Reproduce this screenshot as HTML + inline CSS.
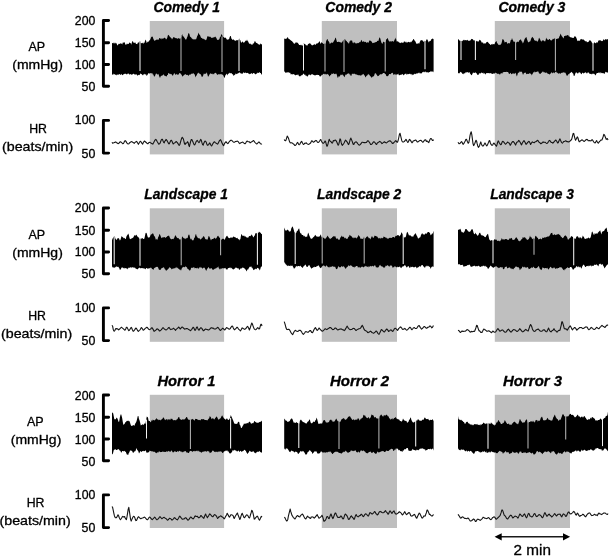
<!DOCTYPE html>
<html lang="en"><head><meta charset="utf-8"><title>Figure</title>
<style>html,body{margin:0;padding:0;background:#fff}svg{display:block}</style></head>
<body>
<svg width="609" height="557" viewBox="0 0 609 557">
<rect width="609" height="557" fill="#fff"/>
<rect x="149.8" y="21.0" width="74.3" height="133.4" fill="#bfbfbf"/>
<rect x="321.8" y="21.0" width="75.2" height="133.4" fill="#bfbfbf"/>
<rect x="494.8" y="21.0" width="75.2" height="133.4" fill="#bfbfbf"/>
<rect x="149.8" y="208.3" width="74.3" height="133.5" fill="#bfbfbf"/>
<rect x="321.8" y="208.3" width="75.2" height="133.5" fill="#bfbfbf"/>
<rect x="494.8" y="208.3" width="75.2" height="133.5" fill="#bfbfbf"/>
<rect x="149.8" y="394.8" width="74.3" height="133.2" fill="#bfbfbf"/>
<rect x="321.8" y="394.8" width="75.2" height="133.2" fill="#bfbfbf"/>
<rect x="494.8" y="394.8" width="75.2" height="133.2" fill="#bfbfbf"/>
<polygon points="112.0,43.0 112.6,43.3 113.2,42.4 113.8,43.5 114.4,43.4 115.0,42.3 115.6,43.6 116.2,43.0 116.8,44.1 117.4,45.4 118.0,45.0 118.6,43.7 119.2,43.9 119.8,43.8 120.4,43.4 121.0,43.3 121.6,43.7 122.2,44.4 122.8,42.5 123.4,42.7 124.0,42.3 124.6,42.3 125.2,44.0 125.8,45.1 126.4,44.5 127.0,43.2 127.6,44.2 128.2,43.7 128.8,43.9 129.4,42.3 130.0,42.9 130.6,43.0 131.2,44.7 131.8,42.8 132.4,41.0 133.0,41.6 133.6,42.8 134.2,43.1 134.8,42.5 135.4,42.6 136.0,44.0 136.6,43.9 137.2,44.2 137.8,42.8 138.4,42.3 139.0,42.8 139.6,41.6 140.2,41.3 140.8,43.0 141.4,43.1 142.0,43.6 142.6,42.6 143.2,44.0 143.8,42.5 144.4,43.1 145.0,41.0 145.6,39.5 146.2,41.1 146.8,43.2 147.4,42.0 148.0,41.6 148.6,41.8 149.2,40.8 149.8,40.0 150.4,39.2 151.0,37.6 151.6,36.7 152.2,36.5 152.8,36.9 153.4,39.1 154.0,39.9 154.6,41.0 155.2,40.3 155.8,40.3 156.4,39.5 157.0,39.8 157.6,39.6 158.2,40.1 158.8,39.2 159.4,38.0 160.0,38.0 160.6,39.0 161.2,38.0 161.8,39.5 162.4,38.5 163.0,38.4 163.6,38.6 164.2,37.8 164.8,37.8 165.4,38.3 166.0,39.4 166.6,39.0 167.2,38.1 167.8,35.4 168.4,34.7 169.0,35.5 169.6,36.5 170.2,37.1 170.8,37.7 171.4,38.1 172.0,39.6 172.6,38.5 173.2,37.5 173.8,36.9 174.4,37.6 175.0,37.8 175.6,38.2 176.2,38.1 176.8,38.4 177.4,38.7 178.0,38.6 178.6,38.0 179.2,38.7 179.8,38.6 180.4,38.8 181.0,37.7 181.6,35.8 182.2,34.0 182.8,36.2 183.4,36.2 184.0,37.2 184.6,37.9 185.2,39.0 185.8,39.7 186.4,39.3 187.0,37.4 187.6,36.2 188.2,33.8 188.8,33.1 189.4,34.0 190.0,36.6 190.6,37.1 191.2,37.6 191.8,38.5 192.4,38.8 193.0,39.4 193.6,39.3 194.2,39.5 194.8,39.3 195.4,39.2 196.0,39.4 196.6,38.1 197.2,36.1 197.8,35.2 198.4,32.6 199.0,34.0 199.6,34.8 200.2,35.4 200.8,37.2 201.4,37.9 202.0,38.1 202.6,38.7 203.2,39.3 203.8,38.6 204.4,39.5 205.0,39.6 205.6,40.2 206.2,40.0 206.8,38.4 207.4,36.3 208.0,36.2 208.6,36.4 209.2,37.1 209.8,36.6 210.4,36.7 211.0,37.4 211.6,38.1 212.2,37.6 212.8,38.0 213.4,37.2 214.0,37.4 214.6,37.0 215.2,36.5 215.8,37.2 216.4,37.9 217.0,39.6 217.6,39.9 218.2,39.8 218.8,39.8 219.4,39.0 220.0,37.1 220.6,36.8 221.2,34.6 221.8,34.3 222.4,35.7 223.0,37.5 223.6,36.8 224.2,37.5 224.8,38.1 225.4,37.6 226.0,38.0 226.6,39.3 227.2,39.8 227.8,39.6 228.4,39.2 229.0,39.4 229.6,37.2 230.2,36.0 230.8,36.1 231.4,38.5 232.0,39.2 232.6,39.9 233.2,39.3 233.8,39.7 234.4,40.2 235.0,40.7 235.6,40.7 236.2,40.6 236.8,39.9 237.4,40.3 238.0,40.3 238.6,39.8 239.2,38.6 239.8,40.0 240.4,40.3 241.0,42.5 241.6,42.7 242.2,41.2 242.8,42.0 243.4,42.6 244.0,42.8 244.6,42.1 245.2,41.2 245.8,40.5 246.4,41.1 247.0,39.4 247.6,41.1 248.2,41.4 248.8,43.0 249.4,44.2 250.0,42.9 250.6,44.3 251.2,44.1 251.8,45.1 252.4,44.7 253.0,43.3 253.6,43.8 254.2,42.5 254.8,41.1 255.4,41.5 256.0,42.7 256.6,43.0 257.2,43.3 257.8,43.7 258.4,44.3 259.0,44.4 259.6,45.0 260.2,43.2 260.8,44.2 261.4,44.5 262.0,43.8 262.0,74.4 261.4,74.4 260.8,73.1 260.2,72.9 259.6,72.1 259.0,72.7 258.4,73.1 257.8,72.5 257.2,73.2 256.6,73.6 256.0,74.2 255.4,74.3 254.8,73.9 254.2,72.9 253.6,73.0 253.0,73.2 252.4,74.3 251.8,73.0 251.2,73.6 250.6,74.0 250.0,73.5 249.4,74.2 248.8,73.9 248.2,73.0 247.6,73.1 247.0,72.8 246.4,73.3 245.8,72.7 245.2,72.5 244.6,73.3 244.0,72.4 243.4,72.2 242.8,73.8 242.2,73.6 241.6,73.6 241.0,73.8 240.4,72.9 239.8,72.6 239.2,72.4 238.6,73.0 238.0,73.6 237.4,73.6 236.8,74.3 236.2,73.8 235.6,73.5 235.0,75.1 234.4,74.7 233.8,76.2 233.2,74.7 232.6,74.2 232.0,74.1 231.4,72.9 230.8,72.9 230.2,73.6 229.6,72.6 229.0,73.8 228.4,73.4 227.8,74.3 227.2,75.4 226.6,73.5 226.0,74.4 225.4,75.3 224.8,77.3 224.2,77.9 223.6,75.9 223.0,75.1 222.4,74.7 221.8,73.8 221.2,74.8 220.6,73.7 220.0,74.7 219.4,74.0 218.8,74.6 218.2,74.0 217.6,74.9 217.0,74.5 216.4,73.5 215.8,73.0 215.2,72.8 214.6,73.0 214.0,74.4 213.4,74.1 212.8,73.5 212.2,74.5 211.6,73.5 211.0,74.3 210.4,73.0 209.8,74.1 209.2,74.9 208.6,76.3 208.0,76.8 207.4,74.4 206.8,72.2 206.2,73.6 205.6,73.9 205.0,73.3 204.4,74.2 203.8,73.4 203.2,75.5 202.6,76.4 202.0,77.3 201.4,76.1 200.8,74.0 200.2,74.6 199.6,73.4 199.0,73.4 198.4,72.6 197.8,73.2 197.2,74.1 196.6,75.6 196.0,76.0 195.4,77.6 194.8,74.8 194.2,74.0 193.6,73.5 193.0,73.1 192.4,73.9 191.8,73.6 191.2,73.9 190.6,74.7 190.0,74.3 189.4,74.8 188.8,75.4 188.2,75.8 187.6,74.8 187.0,75.0 186.4,75.0 185.8,73.9 185.2,74.4 184.6,74.4 184.0,75.3 183.4,75.6 182.8,76.4 182.2,76.2 181.6,74.8 181.0,74.2 180.4,73.3 179.8,73.3 179.2,73.1 178.6,74.9 178.0,74.0 177.4,75.0 176.8,74.6 176.2,73.7 175.6,75.0 175.0,74.3 174.4,73.1 173.8,73.7 173.2,75.2 172.6,75.8 172.0,75.0 171.4,74.1 170.8,73.7 170.2,74.3 169.6,74.0 169.0,72.9 168.4,73.1 167.8,75.0 167.2,75.1 166.6,76.7 166.0,76.1 165.4,76.3 164.8,75.3 164.2,75.9 163.6,74.2 163.0,74.8 162.4,75.6 161.8,76.0 161.2,75.5 160.6,76.5 160.0,78.1 159.4,76.7 158.8,75.0 158.2,73.7 157.6,74.8 157.0,74.0 156.4,73.6 155.8,73.7 155.2,75.4 154.6,76.4 154.0,76.6 153.4,74.5 152.8,74.5 152.2,73.0 151.6,73.4 151.0,73.1 150.4,73.2 149.8,73.3 149.2,73.7 148.6,72.7 148.0,74.3 147.4,74.7 146.8,76.3 146.2,74.4 145.6,74.3 145.0,74.8 144.4,73.7 143.8,74.1 143.2,75.2 142.6,75.2 142.0,74.6 141.4,74.0 140.8,73.7 140.2,73.4 139.6,75.2 139.0,74.8 138.4,75.0 137.8,75.4 137.2,75.6 136.6,74.5 136.0,74.1 135.4,74.7 134.8,74.5 134.2,74.2 133.6,73.8 133.0,73.7 132.4,74.5 131.8,75.1 131.2,74.2 130.6,74.2 130.0,73.9 129.4,74.7 128.8,74.0 128.2,73.3 127.6,73.7 127.0,74.4 126.4,74.3 125.8,73.8 125.2,73.8 124.6,73.7 124.0,74.3 123.4,74.3 122.8,75.2 122.2,74.9 121.6,73.8 121.0,75.1 120.4,74.8 119.8,74.0 119.2,74.3 118.6,74.9 118.0,74.1 117.4,74.9 116.8,74.4 116.2,75.4 115.6,74.7 115.0,74.5 114.4,74.3 113.8,73.4 113.2,74.7 112.6,74.6 112.0,74.7" fill="#000"/>
<line x1="140.0" y1="41.5" x2="140.0" y2="70.9" stroke="#fff" stroke-width="1.05" stroke-opacity="0.95"/>
<line x1="181.0" y1="35.8" x2="181.0" y2="71.0" stroke="#bfbfbf" stroke-width="1.05" stroke-opacity="0.95"/>
<line x1="222.0" y1="36.4" x2="222.0" y2="72.0" stroke="#bfbfbf" stroke-width="1.05" stroke-opacity="0.95"/>
<line x1="239.0" y1="39.3" x2="239.0" y2="71.1" stroke="#fff" stroke-width="1.05" stroke-opacity="0.95"/>
<path d="M112.0,142.3 L112.6,143.2 L113.2,143.0 L113.8,142.8 L114.4,142.5 L115.0,142.2 L115.6,141.9 L116.2,142.3 L116.8,142.8 L117.4,143.2 L118.0,143.7 L118.6,143.5 L119.2,142.9 L119.8,142.1 L120.4,141.8 L121.0,142.1 L121.6,142.7 L122.2,143.2 L122.8,143.8 L123.4,143.6 L124.0,142.4 L124.6,141.1 L125.2,140.6 L125.8,141.1 L126.4,142.1 L127.0,143.1 L127.6,143.7 L128.2,144.0 L128.8,143.8 L129.4,143.0 L130.0,142.5 L130.6,142.1 L131.2,141.8 L131.8,141.6 L132.4,142.1 L133.0,142.4 L133.6,142.8 L134.2,143.3 L134.8,142.7 L135.4,142.1 L136.0,141.7 L136.6,141.4 L137.2,142.3 L137.8,143.2 L138.4,144.3 L139.0,143.3 L139.6,142.3 L140.2,141.2 L140.8,141.5 L141.4,142.5 L142.0,143.5 L142.6,144.2 L143.2,142.8 L143.8,141.8 L144.4,141.0 L145.0,141.5 L145.6,142.0 L146.2,142.5 L146.8,143.1 L147.4,143.7 L148.0,143.6 L148.6,142.8 L149.2,142.6 L149.8,142.2 L150.4,142.7 L151.0,143.1 L151.6,143.4 L152.2,143.7 L152.8,144.2 L153.4,143.1 L154.0,141.9 L154.6,140.8 L155.2,139.9 L155.8,139.4 L156.4,140.1 L157.0,141.2 L157.6,142.2 L158.2,143.2 L158.8,144.2 L159.4,143.8 L160.0,143.4 L160.6,141.7 L161.2,140.1 L161.8,139.2 L162.4,139.3 L163.0,140.9 L163.6,142.4 L164.2,142.9 L164.8,141.2 L165.4,140.7 L166.0,139.4 L166.6,140.0 L167.2,140.9 L167.8,142.1 L168.4,143.2 L169.0,144.0 L169.6,143.1 L170.2,141.8 L170.8,140.5 L171.4,140.2 L172.0,141.3 L172.6,142.7 L173.2,144.0 L173.8,143.4 L174.4,142.9 L175.0,142.7 L175.6,142.1 L176.2,141.5 L176.8,142.1 L177.4,142.7 L178.0,143.6 L178.6,144.8 L179.2,145.3 L179.8,144.7 L180.4,142.5 L181.0,140.3 L181.6,138.5 L182.2,137.3 L182.8,138.1 L183.4,139.0 L184.0,141.6 L184.6,144.0 L185.2,144.4 L185.8,143.0 L186.4,143.1 L187.0,142.6 L187.6,141.7 L188.2,142.8 L188.8,145.2 L189.4,146.6 L190.0,144.0 L190.6,141.7 L191.2,139.6 L191.8,139.5 L192.4,140.8 L193.0,142.1 L193.6,143.5 L194.2,144.8 L194.8,144.9 L195.4,143.5 L196.0,141.9 L196.6,141.0 L197.2,140.3 L197.8,141.2 L198.4,142.0 L199.0,142.7 L199.6,141.8 L200.2,140.3 L200.8,139.4 L201.4,140.6 L202.0,142.9 L202.6,144.7 L203.2,145.2 L203.8,143.2 L204.4,141.9 L205.0,141.1 L205.6,141.2 L206.2,142.2 L206.8,144.0 L207.4,145.2 L208.0,145.2 L208.6,144.6 L209.2,143.6 L209.8,142.9 L210.4,144.0 L211.0,145.3 L211.6,146.0 L212.2,145.0 L212.8,143.8 L213.4,142.9 L214.0,142.0 L214.6,141.7 L215.2,142.6 L215.8,143.0 L216.4,143.3 L217.0,143.7 L217.6,144.2 L218.2,143.3 L218.8,142.0 L219.4,140.7 L220.0,140.1 L220.6,139.7 L221.2,141.1 L221.8,142.4 L222.4,143.7 L223.0,145.0 L223.6,145.7 L224.2,144.3 L224.8,143.1 L225.4,142.3 L226.0,141.7 L226.6,142.5 L227.2,143.1 L227.8,143.6 L228.4,143.0 L229.0,142.0 L229.6,141.3 L230.2,140.7 L230.8,140.3 L231.4,140.2 L232.0,140.7 L232.6,141.3 L233.2,141.8 L233.8,142.3 L234.4,142.3 L235.0,141.8 L235.6,141.5 L236.2,141.4 L236.8,141.2 L237.4,141.1 L238.0,141.5 L238.6,142.2 L239.2,143.2 L239.8,143.7 L240.4,143.0 L241.0,142.7 L241.6,142.5 L242.2,142.3 L242.8,142.1 L243.4,142.7 L244.0,143.2 L244.6,143.6 L245.2,143.6 L245.8,142.8 L246.4,141.8 L247.0,141.0 L247.6,141.3 L248.2,141.8 L248.8,141.7 L249.4,141.8 L250.0,142.6 L250.6,142.7 L251.2,142.0 L251.8,141.7 L252.4,141.5 L253.0,140.8 L253.6,140.5 L254.2,141.3 L254.8,142.3 L255.4,142.8 L256.0,143.3 L256.6,144.0 L257.2,143.7 L257.8,143.0 L258.4,142.3 L259.0,142.0 L259.6,142.6 L260.2,143.3 L260.8,143.9 L261.4,144.1 L262.0,143.9" fill="none" stroke="#151515" stroke-width="1.1" stroke-linejoin="round"/>
<polygon points="284.2,38.5 284.8,38.8 285.4,38.8 286.0,38.9 286.6,38.4 287.2,37.8 287.8,37.0 288.4,38.6 289.0,39.3 289.6,39.0 290.2,40.5 290.8,39.7 291.4,40.9 292.0,40.9 292.6,42.0 293.2,42.6 293.8,43.4 294.4,43.8 295.0,43.4 295.6,42.4 296.2,42.0 296.8,42.9 297.4,42.5 298.0,43.3 298.6,43.9 299.2,44.9 299.8,44.9 300.4,45.3 301.0,44.6 301.6,45.2 302.2,46.1 302.8,44.9 303.4,43.5 304.0,43.6 304.6,43.9 305.2,44.1 305.8,45.2 306.4,44.9 307.0,45.9 307.6,44.9 308.2,43.9 308.8,43.7 309.4,43.5 310.0,42.9 310.6,43.9 311.2,44.6 311.8,45.2 312.4,45.4 313.0,44.7 313.6,45.0 314.2,43.7 314.8,44.7 315.4,45.0 316.0,44.1 316.6,43.6 317.2,43.4 317.8,43.2 318.4,42.8 319.0,42.0 319.6,41.0 320.2,43.1 320.8,43.9 321.4,42.1 322.0,42.7 322.6,43.0 323.2,43.9 323.8,43.7 324.4,43.4 325.0,43.8 325.6,43.5 326.2,41.1 326.8,39.8 327.4,38.7 328.0,40.4 328.6,41.2 329.2,42.1 329.8,43.9 330.4,43.4 331.0,42.8 331.6,42.4 332.2,42.7 332.8,42.7 333.4,42.0 334.0,40.8 334.6,40.0 335.2,38.3 335.8,37.4 336.4,40.0 337.0,42.0 337.6,42.0 338.2,42.1 338.8,41.4 339.4,42.3 340.0,41.8 340.6,42.5 341.2,42.9 341.8,42.3 342.4,41.7 343.0,40.6 343.6,40.3 344.2,40.2 344.8,38.9 345.4,39.8 346.0,41.0 346.6,40.7 347.2,42.2 347.8,42.2 348.4,43.3 349.0,43.8 349.6,41.3 350.2,41.2 350.8,39.9 351.4,40.7 352.0,40.2 352.6,42.5 353.2,43.4 353.8,42.2 354.4,42.6 355.0,42.4 355.6,43.5 356.2,43.5 356.8,43.2 357.4,43.2 358.0,42.8 358.6,43.3 359.2,42.5 359.8,42.1 360.4,42.3 361.0,40.4 361.6,39.7 362.2,42.1 362.8,41.5 363.4,41.5 364.0,41.3 364.6,42.3 365.2,41.7 365.8,42.1 366.4,42.6 367.0,43.3 367.6,41.8 368.2,43.1 368.8,42.0 369.4,40.5 370.0,40.6 370.6,40.7 371.2,41.3 371.8,41.8 372.4,42.9 373.0,43.3 373.6,42.8 374.2,42.8 374.8,42.5 375.4,42.3 376.0,42.1 376.6,42.1 377.2,40.9 377.8,40.8 378.4,41.0 379.0,38.7 379.6,37.3 380.2,38.2 380.8,40.6 381.4,42.4 382.0,43.4 382.6,43.7 383.2,41.6 383.8,42.0 384.4,42.2 385.0,42.2 385.6,41.6 386.2,39.3 386.8,39.3 387.4,37.8 388.0,39.1 388.6,40.4 389.2,41.6 389.8,41.6 390.4,41.5 391.0,40.9 391.6,41.8 392.2,40.9 392.8,41.3 393.4,41.8 394.0,41.2 394.6,39.6 395.2,39.2 395.8,37.4 396.4,40.5 397.0,42.0 397.6,40.9 398.2,41.6 398.8,42.3 399.4,42.7 400.0,42.5 400.6,43.2 401.2,42.4 401.8,42.6 402.4,42.4 403.0,43.3 403.6,42.2 404.2,41.0 404.8,42.1 405.4,42.4 406.0,41.3 406.6,42.7 407.2,42.2 407.8,42.4 408.4,41.8 409.0,41.9 409.6,42.4 410.2,41.6 410.8,42.4 411.4,42.0 412.0,40.9 412.6,40.4 413.2,39.3 413.8,39.0 414.4,40.3 415.0,40.9 415.6,41.7 416.2,43.5 416.8,43.7 417.4,43.9 418.0,42.7 418.6,43.6 419.2,43.8 419.8,41.9 420.4,40.7 421.0,40.0 421.6,40.3 422.2,40.4 422.8,40.5 423.4,41.8 424.0,41.7 424.6,40.8 425.2,41.0 425.8,41.2 426.4,39.7 427.0,38.9 427.6,40.1 428.2,41.3 428.8,42.6 429.4,41.3 430.0,41.1 430.6,41.1 431.2,39.3 431.8,39.2 432.4,38.5 433.0,38.8 433.6,39.3 433.6,72.6 433.0,71.3 432.4,71.8 431.8,71.5 431.2,71.6 430.6,71.2 430.0,71.9 429.4,71.9 428.8,72.4 428.2,72.4 427.6,72.4 427.0,71.7 426.4,72.4 425.8,72.2 425.2,71.3 424.6,71.9 424.0,72.4 423.4,71.6 422.8,72.6 422.2,72.0 421.6,73.8 421.0,73.1 420.4,73.4 419.8,73.4 419.2,72.6 418.6,72.7 418.0,73.5 417.4,73.3 416.8,73.7 416.2,73.2 415.6,74.1 415.0,74.2 414.4,73.4 413.8,74.7 413.2,74.6 412.6,74.6 412.0,75.4 411.4,73.8 410.8,74.4 410.2,73.7 409.6,73.7 409.0,74.1 408.4,74.3 407.8,73.8 407.2,74.5 406.6,74.7 406.0,73.3 405.4,74.1 404.8,74.2 404.2,74.5 403.6,75.4 403.0,74.6 402.4,73.9 401.8,74.5 401.2,74.7 400.6,74.7 400.0,74.9 399.4,75.2 398.8,75.2 398.2,73.6 397.6,74.2 397.0,74.8 396.4,74.3 395.8,75.3 395.2,73.7 394.6,74.0 394.0,75.3 393.4,74.6 392.8,73.1 392.2,72.8 391.6,73.0 391.0,73.7 390.4,74.3 389.8,73.9 389.2,73.9 388.6,75.3 388.0,76.0 387.4,76.3 386.8,76.3 386.2,75.8 385.6,74.1 385.0,74.1 384.4,72.9 383.8,72.9 383.2,72.9 382.6,73.7 382.0,73.8 381.4,74.5 380.8,74.3 380.2,74.3 379.6,74.8 379.0,75.4 378.4,76.0 377.8,76.3 377.2,75.6 376.6,74.7 376.0,73.5 375.4,73.3 374.8,73.6 374.2,75.4 373.6,76.5 373.0,76.2 372.4,76.9 371.8,77.6 371.2,77.4 370.6,76.2 370.0,75.9 369.4,74.7 368.8,74.8 368.2,73.7 367.6,74.9 367.0,75.7 366.4,75.8 365.8,77.4 365.2,76.7 364.6,75.5 364.0,74.8 363.4,73.7 362.8,75.0 362.2,74.1 361.6,75.2 361.0,75.5 360.4,75.6 359.8,75.5 359.2,75.1 358.6,75.2 358.0,75.3 357.4,74.7 356.8,74.9 356.2,73.9 355.6,74.6 355.0,74.1 354.4,73.4 353.8,74.2 353.2,73.5 352.6,74.0 352.0,73.5 351.4,75.7 350.8,76.1 350.2,74.6 349.6,74.5 349.0,73.2 348.4,73.4 347.8,73.7 347.2,73.7 346.6,74.8 346.0,74.4 345.4,74.8 344.8,76.5 344.2,77.2 343.6,75.4 343.0,75.6 342.4,74.2 341.8,75.3 341.2,74.4 340.6,74.7 340.0,75.9 339.4,76.7 338.8,76.0 338.2,77.4 337.6,77.7 337.0,75.5 336.4,73.6 335.8,74.2 335.2,73.6 334.6,74.1 334.0,74.2 333.4,73.0 332.8,73.7 332.2,73.9 331.6,73.5 331.0,75.1 330.4,74.9 329.8,76.6 329.2,75.9 328.6,74.8 328.0,74.4 327.4,73.8 326.8,74.8 326.2,74.1 325.6,74.5 325.0,73.6 324.4,74.4 323.8,73.7 323.2,74.0 322.6,75.0 322.0,74.6 321.4,75.4 320.8,76.3 320.2,76.4 319.6,76.3 319.0,74.9 318.4,75.0 317.8,74.8 317.2,74.9 316.6,75.0 316.0,74.7 315.4,75.5 314.8,75.3 314.2,75.2 313.6,75.0 313.0,74.5 312.4,74.2 311.8,74.2 311.2,74.6 310.6,75.4 310.0,74.4 309.4,74.8 308.8,74.5 308.2,75.4 307.6,76.4 307.0,76.4 306.4,75.5 305.8,75.9 305.2,74.6 304.6,74.9 304.0,74.1 303.4,73.6 302.8,74.6 302.2,75.3 301.6,75.2 301.0,75.4 300.4,76.3 299.8,76.5 299.2,75.9 298.6,75.6 298.0,74.0 297.4,75.2 296.8,74.7 296.2,75.0 295.6,75.4 295.0,74.8 294.4,74.7 293.8,74.1 293.2,74.3 292.6,74.6 292.0,74.0 291.4,74.2 290.8,74.4 290.2,72.7 289.6,72.9 289.0,72.3 288.4,72.5 287.8,72.0 287.2,72.7 286.6,72.3 286.0,73.1 285.4,72.4 284.8,72.0 284.2,71.1" fill="#000"/>
<line x1="303.5" y1="43.5" x2="303.5" y2="70.5" stroke="#fff" stroke-width="1.05" stroke-opacity="0.95"/>
<line x1="325.0" y1="40.2" x2="325.0" y2="71.5" stroke="#bfbfbf" stroke-width="1.05" stroke-opacity="0.95"/>
<line x1="344.0" y1="39.7" x2="344.0" y2="72.0" stroke="#bfbfbf" stroke-width="1.05" stroke-opacity="0.95"/>
<line x1="385.2" y1="39.3" x2="385.2" y2="71.5" stroke="#bfbfbf" stroke-width="1.05" stroke-opacity="0.95"/>
<line x1="425.0" y1="40.1" x2="425.0" y2="69.2" stroke="#fff" stroke-width="1.05" stroke-opacity="0.95"/>
<path d="M284.2,139.5 L284.8,140.6 L285.4,140.8 L286.0,140.1 L286.6,138.1 L287.2,136.1 L287.8,136.9 L288.4,138.0 L289.0,139.8 L289.6,141.8 L290.2,142.8 L290.8,142.9 L291.4,142.7 L292.0,142.8 L292.6,143.4 L293.2,143.8 L293.8,144.2 L294.4,145.0 L295.0,145.5 L295.6,145.2 L296.2,144.6 L296.8,143.5 L297.4,142.4 L298.0,142.9 L298.6,144.4 L299.2,144.8 L299.8,144.3 L300.4,143.1 L301.0,141.9 L301.6,141.4 L302.2,142.4 L302.8,143.5 L303.4,144.5 L304.0,144.1 L304.6,143.5 L305.2,143.0 L305.8,143.2 L306.4,142.9 L307.0,143.6 L307.6,144.0 L308.2,144.3 L308.8,144.5 L309.4,143.8 L310.0,143.6 L310.6,142.9 L311.2,141.7 L311.8,140.7 L312.4,141.2 L313.0,141.9 L313.6,142.3 L314.2,141.7 L314.8,141.3 L315.4,140.7 L316.0,140.4 L316.6,140.7 L317.2,141.8 L317.8,142.5 L318.4,142.4 L319.0,141.8 L319.6,141.0 L320.2,140.0 L320.8,139.5 L321.4,141.0 L322.0,142.1 L322.6,143.0 L323.2,143.4 L323.8,142.9 L324.4,142.4 L325.0,141.0 L325.6,141.6 L326.2,143.9 L326.8,146.2 L327.4,145.9 L328.0,143.9 L328.6,141.4 L329.2,139.3 L329.8,140.6 L330.4,141.5 L331.0,141.7 L331.6,142.5 L332.2,143.1 L332.8,142.2 L333.4,140.5 L334.0,140.7 L334.6,140.6 L335.2,140.0 L335.8,140.4 L336.4,141.3 L337.0,142.5 L337.6,144.0 L338.2,145.2 L338.8,144.2 L339.4,141.7 L340.0,138.9 L340.6,139.7 L341.2,142.7 L341.8,144.6 L342.4,145.3 L343.0,144.4 L343.6,143.8 L344.2,142.8 L344.8,141.6 L345.4,140.1 L346.0,140.5 L346.6,141.3 L347.2,142.1 L347.8,143.3 L348.4,144.6 L349.0,143.9 L349.6,141.8 L350.2,139.5 L350.8,138.1 L351.4,139.4 L352.0,140.9 L352.6,142.5 L353.2,144.2 L353.8,144.5 L354.4,143.1 L355.0,142.4 L355.6,142.0 L356.2,141.8 L356.8,142.4 L357.4,143.2 L358.0,144.0 L358.6,144.7 L359.2,145.1 L359.8,145.0 L360.4,144.3 L361.0,143.6 L361.6,142.9 L362.2,142.2 L362.8,142.3 L363.4,142.5 L364.0,142.6 L364.6,142.6 L365.2,142.7 L365.8,142.5 L366.4,142.4 L367.0,141.6 L367.6,140.7 L368.2,140.8 L368.8,141.5 L369.4,142.3 L370.0,143.2 L370.6,144.4 L371.2,144.5 L371.8,144.1 L372.4,143.3 L373.0,142.5 L373.6,141.9 L374.2,141.8 L374.8,142.5 L375.4,143.2 L376.0,144.1 L376.6,144.5 L377.2,143.2 L377.8,142.7 L378.4,142.3 L379.0,141.9 L379.6,141.4 L380.2,141.7 L380.8,142.2 L381.4,142.9 L382.0,143.6 L382.6,143.2 L383.2,142.7 L383.8,142.2 L384.4,141.8 L385.0,142.2 L385.6,142.6 L386.2,142.9 L386.8,142.7 L387.4,142.2 L388.0,141.6 L388.6,141.3 L389.2,141.0 L389.8,140.7 L390.4,141.0 L391.0,141.6 L391.6,142.1 L392.2,143.2 L392.8,143.5 L393.4,143.0 L394.0,142.4 L394.6,141.9 L395.2,141.2 L395.8,140.6 L396.4,141.3 L397.0,142.1 L397.6,142.2 L398.2,140.1 L398.8,137.5 L399.4,134.4 L400.0,133.2 L400.6,135.6 L401.2,138.1 L401.8,140.7 L402.4,141.6 L403.0,142.1 L403.6,141.9 L404.2,141.5 L404.8,141.0 L405.4,140.2 L406.0,139.4 L406.6,140.4 L407.2,141.5 L407.8,142.5 L408.4,141.8 L409.0,140.2 L409.6,139.4 L410.2,140.0 L410.8,140.9 L411.4,141.9 L412.0,142.8 L412.6,142.2 L413.2,140.9 L413.8,140.7 L414.4,140.6 L415.0,140.2 L415.6,140.0 L416.2,140.5 L416.8,141.4 L417.4,142.0 L418.0,141.9 L418.6,141.4 L419.2,140.9 L419.8,140.6 L420.4,140.4 L421.0,140.4 L421.6,141.0 L422.2,141.7 L422.8,142.3 L423.4,141.9 L424.0,140.8 L424.6,140.2 L425.2,139.8 L425.8,140.1 L426.4,141.4 L427.0,141.1 L427.6,141.3 L428.2,142.2 L428.8,142.6 L429.4,140.9 L430.0,139.6 L430.6,138.5 L431.2,138.5 L431.8,139.3 L432.4,140.5 L433.0,140.5 L433.6,139.7" fill="none" stroke="#151515" stroke-width="1.1" stroke-linejoin="round"/>
<polygon points="458.0,38.8 458.6,39.4 459.2,40.3 459.8,40.7 460.4,40.7 461.0,41.1 461.6,41.0 462.2,41.3 462.8,40.4 463.4,40.2 464.0,39.6 464.6,40.6 465.2,40.1 465.8,40.2 466.4,40.5 467.0,39.8 467.6,39.9 468.2,40.9 468.8,40.6 469.4,40.9 470.0,40.3 470.6,40.4 471.2,38.7 471.8,39.2 472.4,39.1 473.0,39.4 473.6,40.5 474.2,40.2 474.8,40.4 475.4,41.4 476.0,41.7 476.6,40.8 477.2,41.3 477.8,41.6 478.4,41.7 479.0,40.7 479.6,39.8 480.2,40.1 480.8,40.8 481.4,41.7 482.0,42.9 482.6,42.2 483.2,42.8 483.8,44.1 484.4,43.3 485.0,43.5 485.6,43.4 486.2,42.6 486.8,42.1 487.4,41.8 488.0,42.2 488.6,42.9 489.2,43.8 489.8,43.9 490.4,45.0 491.0,44.8 491.6,43.9 492.2,44.8 492.8,43.8 493.4,44.0 494.0,44.6 494.6,44.0 495.2,42.2 495.8,41.7 496.4,40.8 497.0,42.8 497.6,43.4 498.2,44.8 498.8,44.7 499.4,44.8 500.0,45.3 500.6,44.4 501.2,43.9 501.8,42.2 502.4,39.3 503.0,39.3 503.6,39.8 504.2,41.0 504.8,42.7 505.4,42.0 506.0,41.9 506.6,41.7 507.2,43.4 507.8,43.8 508.4,43.1 509.0,43.3 509.6,43.4 510.2,42.3 510.8,40.1 511.4,40.0 512.0,38.1 512.6,39.8 513.2,40.7 513.8,41.9 514.4,41.9 515.0,41.0 515.6,42.3 516.2,42.2 516.8,42.5 517.4,41.7 518.0,41.5 518.6,42.3 519.2,40.4 519.8,40.1 520.4,39.4 521.0,39.4 521.6,41.3 522.2,41.5 522.8,43.5 523.4,42.6 524.0,41.0 524.6,39.1 525.2,38.2 525.8,37.5 526.4,36.9 527.0,39.3 527.6,40.8 528.2,42.4 528.8,42.1 529.4,41.4 530.0,41.8 530.6,40.4 531.2,38.4 531.8,37.4 532.4,36.8 533.0,37.8 533.6,38.3 534.2,39.9 534.8,40.4 535.4,40.9 536.0,40.2 536.6,41.1 537.2,41.7 537.8,41.3 538.4,39.9 539.0,37.5 539.6,38.6 540.2,39.6 540.8,41.0 541.4,41.7 542.0,40.4 542.6,40.6 543.2,40.2 543.8,40.8 544.4,41.0 545.0,41.8 545.6,40.3 546.2,37.5 546.8,39.1 547.4,39.4 548.0,39.8 548.6,40.0 549.2,38.9 549.8,39.0 550.4,40.4 551.0,39.7 551.6,40.7 552.2,40.0 552.8,38.7 553.4,39.2 554.0,38.6 554.6,38.5 555.2,38.2 555.8,38.5 556.4,39.1 557.0,39.1 557.6,38.5 558.2,38.5 558.8,38.3 559.4,36.5 560.0,35.4 560.6,33.5 561.2,34.9 561.8,36.2 562.4,36.7 563.0,37.7 563.6,38.5 564.2,35.9 564.8,35.9 565.4,35.5 566.0,35.9 566.6,35.6 567.2,35.1 567.8,35.3 568.4,35.2 569.0,36.7 569.6,36.6 570.2,37.1 570.8,37.4 571.4,37.5 572.0,37.6 572.6,38.0 573.2,37.8 573.8,38.1 574.4,36.5 575.0,36.0 575.6,36.7 576.2,37.4 576.8,39.0 577.4,40.8 578.0,41.3 578.6,40.6 579.2,40.3 579.8,41.3 580.4,39.6 581.0,38.8 581.6,39.3 582.2,39.5 582.8,39.5 583.4,39.3 584.0,40.3 584.6,40.4 585.2,41.1 585.8,41.6 586.4,41.0 587.0,42.4 587.6,42.0 588.2,42.0 588.8,41.5 589.4,40.4 590.0,40.1 590.6,40.7 591.2,41.2 591.8,42.6 592.4,43.0 593.0,43.5 593.6,43.4 594.2,42.1 594.8,43.0 595.4,43.0 596.0,43.5 596.6,41.9 597.2,42.7 597.8,42.2 598.4,40.5 599.0,40.6 599.6,40.2 600.2,40.5 600.8,40.3 601.4,41.3 602.0,40.8 602.6,41.2 603.2,40.1 603.8,39.0 604.4,40.5 605.0,39.4 605.6,39.1 606.2,40.0 606.8,38.9 607.4,39.6 608.0,38.8 608.0,72.6 607.4,72.6 606.8,72.5 606.2,71.9 605.6,71.7 605.0,72.7 604.4,74.3 603.8,72.9 603.2,73.5 602.6,73.0 602.0,73.2 601.4,72.9 600.8,71.9 600.2,73.4 599.6,73.0 599.0,71.9 598.4,72.9 597.8,73.1 597.2,73.1 596.6,73.2 596.0,74.5 595.4,75.4 594.8,74.4 594.2,73.7 593.6,73.9 593.0,73.3 592.4,74.1 591.8,74.5 591.2,73.7 590.6,74.1 590.0,73.7 589.4,73.8 588.8,72.5 588.2,72.6 587.6,72.4 587.0,73.7 586.4,73.0 585.8,72.2 585.2,72.5 584.6,72.7 584.0,73.3 583.4,73.6 582.8,72.8 582.2,72.8 581.6,74.2 581.0,73.9 580.4,72.8 579.8,72.5 579.2,72.2 578.6,72.4 578.0,73.8 577.4,73.2 576.8,72.6 576.2,72.6 575.6,72.7 575.0,74.6 574.4,76.0 573.8,75.9 573.2,73.6 572.6,73.3 572.0,72.3 571.4,71.8 570.8,73.0 570.2,72.4 569.6,73.4 569.0,74.0 568.4,74.2 567.8,75.1 567.2,76.0 566.6,75.6 566.0,73.9 565.4,72.8 564.8,72.6 564.2,72.8 563.6,72.1 563.0,72.9 562.4,72.6 561.8,72.7 561.2,72.9 560.6,73.8 560.0,73.4 559.4,73.3 558.8,73.3 558.2,73.9 557.6,72.6 557.0,73.3 556.4,71.7 555.8,71.8 555.2,72.1 554.6,73.5 554.0,72.2 553.4,72.8 552.8,72.8 552.2,73.4 551.6,72.1 551.0,72.9 550.4,73.7 549.8,74.3 549.2,74.5 548.6,73.7 548.0,74.0 547.4,73.3 546.8,73.0 546.2,72.2 545.6,72.7 545.0,73.0 544.4,72.1 543.8,72.6 543.2,71.4 542.6,71.5 542.0,72.4 541.4,72.8 540.8,73.6 540.2,74.0 539.6,73.4 539.0,73.4 538.4,71.6 537.8,71.6 537.2,71.6 536.6,71.9 536.0,71.7 535.4,72.5 534.8,71.3 534.2,72.6 533.6,72.1 533.0,73.2 532.4,74.0 531.8,75.4 531.2,74.1 530.6,74.1 530.0,72.7 529.4,73.6 528.8,73.8 528.2,73.9 527.6,73.8 527.0,73.9 526.4,74.2 525.8,72.8 525.2,72.6 524.6,72.9 524.0,72.7 523.4,74.4 522.8,74.5 522.2,72.5 521.6,71.7 521.0,71.6 520.4,72.1 519.8,71.2 519.2,72.4 518.6,72.8 518.0,72.7 517.4,75.0 516.8,76.5 516.2,74.5 515.6,73.1 515.0,72.8 514.4,73.9 513.8,73.9 513.2,73.0 512.6,73.5 512.0,74.1 511.4,74.2 510.8,73.2 510.2,72.8 509.6,74.0 509.0,73.9 508.4,72.5 507.8,72.1 507.2,71.9 506.6,71.7 506.0,71.9 505.4,72.0 504.8,71.9 504.2,72.1 503.6,72.2 503.0,72.0 502.4,73.6 501.8,73.5 501.2,73.1 500.6,73.4 500.0,74.7 499.4,74.2 498.8,73.4 498.2,74.1 497.6,74.1 497.0,73.3 496.4,73.2 495.8,73.0 495.2,72.5 494.6,73.8 494.0,73.5 493.4,73.6 492.8,73.7 492.2,74.1 491.6,73.7 491.0,73.1 490.4,73.3 489.8,73.3 489.2,73.3 488.6,73.0 488.0,73.3 487.4,73.1 486.8,73.3 486.2,73.1 485.6,74.8 485.0,73.6 484.4,73.2 483.8,74.0 483.2,72.6 482.6,73.2 482.0,72.7 481.4,72.6 480.8,73.3 480.2,73.5 479.6,73.3 479.0,73.5 478.4,75.1 477.8,75.0 477.2,74.6 476.6,73.2 476.0,73.0 475.4,72.2 474.8,72.7 474.2,72.9 473.6,72.8 473.0,72.4 472.4,74.1 471.8,75.0 471.2,75.3 470.6,74.1 470.0,73.6 469.4,72.1 468.8,72.2 468.2,73.1 467.6,71.9 467.0,72.3 466.4,72.4 465.8,72.0 465.2,73.3 464.6,73.5 464.0,72.9 463.4,74.2 462.8,73.9 462.2,73.5 461.6,72.6 461.0,72.3 460.4,71.8 459.8,72.8 459.2,73.5 458.6,73.1 458.0,73.6" fill="#000"/>
<line x1="461.0" y1="39.1" x2="461.0" y2="60.0" stroke="#fff" stroke-width="1.05" stroke-opacity="0.95"/>
<line x1="475.4" y1="39.6" x2="475.4" y2="60.0" stroke="#fff" stroke-width="1.05" stroke-opacity="0.95"/>
<line x1="515.6" y1="40.2" x2="515.6" y2="60.1" stroke="#bfbfbf" stroke-width="1.05" stroke-opacity="0.95"/>
<line x1="555.4" y1="37.3" x2="555.4" y2="70.7" stroke="#bfbfbf" stroke-width="1.05" stroke-opacity="0.95"/>
<line x1="593.0" y1="41.2" x2="593.0" y2="70.8" stroke="#fff" stroke-width="1.05" stroke-opacity="0.95"/>
<path d="M458.0,142.2 L458.6,143.1 L459.2,143.8 L459.8,143.5 L460.4,142.9 L461.0,142.1 L461.6,141.6 L462.2,142.5 L462.8,144.0 L463.4,144.3 L464.0,143.2 L464.6,142.1 L465.2,140.9 L465.8,139.6 L466.4,139.3 L467.0,140.6 L467.6,142.0 L468.2,143.3 L468.8,142.7 L469.4,139.7 L470.0,135.6 L470.6,133.2 L471.2,131.8 L471.8,134.7 L472.4,138.9 L473.0,143.7 L473.6,145.6 L474.2,144.6 L474.8,143.4 L475.4,141.7 L476.0,140.2 L476.6,141.1 L477.2,143.9 L477.8,146.0 L478.4,147.4 L479.0,146.7 L479.6,145.4 L480.2,143.5 L480.8,141.9 L481.4,143.9 L482.0,145.4 L482.6,146.0 L483.2,146.0 L483.8,145.1 L484.4,144.0 L485.0,142.9 L485.6,144.0 L486.2,145.1 L486.8,145.9 L487.4,145.0 L488.0,143.6 L488.6,142.2 L489.2,140.6 L489.8,140.8 L490.4,143.0 L491.0,144.4 L491.6,145.1 L492.2,145.2 L492.8,144.9 L493.4,143.4 L494.0,143.1 L494.6,143.9 L495.2,144.7 L495.8,145.4 L496.4,146.2 L497.0,144.7 L497.6,142.5 L498.2,140.9 L498.8,141.7 L499.4,143.0 L500.0,143.9 L500.6,144.7 L501.2,144.4 L501.8,143.1 L502.4,141.5 L503.0,141.3 L503.6,141.8 L504.2,142.6 L504.8,143.5 L505.4,144.2 L506.0,143.8 L506.6,143.2 L507.2,142.5 L507.8,142.0 L508.4,142.7 L509.0,142.9 L509.6,143.8 L510.2,145.3 L510.8,144.6 L511.4,143.1 L512.0,142.4 L512.6,141.6 L513.2,141.5 L513.8,142.1 L514.4,142.9 L515.0,144.0 L515.6,145.1 L516.2,143.6 L516.8,142.3 L517.4,142.0 L518.0,141.8 L518.6,140.4 L519.2,140.7 L519.8,141.7 L520.4,142.8 L521.0,144.1 L521.6,144.9 L522.2,143.3 L522.8,142.2 L523.4,141.3 L524.0,140.6 L524.6,141.6 L525.2,142.5 L525.8,144.1 L526.4,144.2 L527.0,143.4 L527.6,142.3 L528.2,142.0 L528.8,141.4 L529.4,141.8 L530.0,142.9 L530.6,144.5 L531.2,143.5 L531.8,142.5 L532.4,141.9 L533.0,142.3 L533.6,142.5 L534.2,142.8 L534.8,142.2 L535.4,141.7 L536.0,141.6 L536.6,141.3 L537.2,140.2 L537.8,140.4 L538.4,141.4 L539.0,142.2 L539.6,142.4 L540.2,143.1 L540.8,143.8 L541.4,143.5 L542.0,143.0 L542.6,142.2 L543.2,141.9 L543.8,142.4 L544.4,142.3 L545.0,142.3 L545.6,142.6 L546.2,143.1 L546.8,143.5 L547.4,143.1 L548.0,142.3 L548.6,141.5 L549.2,140.4 L549.8,140.6 L550.4,141.2 L551.0,142.2 L551.6,142.4 L552.2,142.5 L552.8,143.1 L553.4,142.7 L554.0,141.9 L554.6,141.2 L555.2,140.6 L555.8,140.0 L556.4,140.8 L557.0,141.7 L557.6,142.9 L558.2,142.8 L558.8,141.3 L559.4,139.9 L560.0,138.9 L560.6,140.4 L561.2,141.9 L561.8,142.6 L562.4,143.2 L563.0,142.5 L563.6,141.6 L564.2,141.5 L564.8,141.3 L565.4,140.9 L566.0,140.9 L566.6,141.5 L567.2,141.8 L567.8,141.5 L568.4,142.0 L569.0,141.8 L569.6,141.5 L570.2,140.9 L570.8,140.0 L571.4,140.0 L572.0,138.1 L572.6,135.7 L573.2,133.4 L573.8,133.6 L574.4,136.5 L575.0,138.7 L575.6,140.3 L576.2,139.1 L576.8,137.9 L577.4,136.9 L578.0,138.0 L578.6,140.3 L579.2,141.8 L579.8,141.7 L580.4,140.8 L581.0,140.6 L581.6,140.0 L582.2,139.8 L582.8,140.3 L583.4,141.0 L584.0,141.4 L584.6,141.2 L585.2,140.5 L585.8,140.0 L586.4,139.5 L587.0,139.4 L587.6,139.8 L588.2,140.6 L588.8,140.7 L589.4,140.5 L590.0,140.9 L590.6,140.7 L591.2,140.6 L591.8,139.7 L592.4,139.8 L593.0,140.8 L593.6,141.8 L594.2,142.4 L594.8,142.9 L595.4,142.7 L596.0,141.5 L596.6,140.6 L597.2,141.7 L597.8,142.7 L598.4,143.1 L599.0,142.2 L599.6,141.4 L600.2,140.8 L600.8,140.0 L601.4,140.1 L602.0,139.9 L602.6,138.3 L603.2,136.5 L603.8,134.3 L604.4,134.8 L605.0,136.2 L605.6,137.7 L606.2,139.4 L606.8,138.8 L607.4,138.6 L608.0,140.1" fill="none" stroke="#151515" stroke-width="1.1" stroke-linejoin="round"/>
<polygon points="112.0,240.3 112.6,238.6 113.2,237.7 113.8,236.8 114.4,236.5 115.0,237.2 115.6,239.1 116.2,239.4 116.8,240.0 117.4,238.5 118.0,237.9 118.6,238.2 119.2,238.8 119.8,240.6 120.4,240.1 121.0,237.9 121.6,236.0 122.2,236.8 122.8,237.3 123.4,237.8 124.0,238.6 124.6,237.8 125.2,239.0 125.8,239.1 126.4,236.5 127.0,235.5 127.6,234.8 128.2,233.6 128.8,234.8 129.4,237.6 130.0,239.2 130.6,238.9 131.2,238.5 131.8,238.6 132.4,237.9 133.0,237.7 133.6,236.9 134.2,235.6 134.8,235.3 135.4,235.4 136.0,235.6 136.6,234.5 137.2,236.3 137.8,236.8 138.4,237.4 139.0,237.6 139.6,239.0 140.2,238.4 140.8,238.7 141.4,238.5 142.0,238.6 142.6,238.0 143.2,239.0 143.8,239.0 144.4,238.6 145.0,235.8 145.6,233.1 146.2,232.7 146.8,233.5 147.4,236.1 148.0,237.5 148.6,237.4 149.2,237.4 149.8,237.0 150.4,235.5 151.0,234.2 151.6,234.5 152.2,233.4 152.8,233.6 153.4,233.8 154.0,235.7 154.6,236.2 155.2,237.4 155.8,239.7 156.4,238.8 157.0,240.1 157.6,239.2 158.2,236.9 158.8,236.2 159.4,234.1 160.0,234.5 160.6,236.1 161.2,237.4 161.8,238.3 162.4,236.9 163.0,238.0 163.6,236.9 164.2,237.2 164.8,236.9 165.4,238.2 166.0,237.1 166.6,237.2 167.2,236.0 167.8,236.2 168.4,235.7 169.0,235.4 169.6,237.0 170.2,238.5 170.8,238.7 171.4,239.4 172.0,238.8 172.6,238.9 173.2,239.2 173.8,238.6 174.4,237.6 175.0,235.7 175.6,235.3 176.2,236.6 176.8,237.5 177.4,237.9 178.0,238.3 178.6,238.0 179.2,239.5 179.8,239.3 180.4,239.3 181.0,239.7 181.6,237.6 182.2,237.2 182.8,236.2 183.4,238.2 184.0,238.0 184.6,238.8 185.2,238.2 185.8,239.2 186.4,238.2 187.0,237.7 187.6,238.3 188.2,235.5 188.8,234.5 189.4,234.7 190.0,237.4 190.6,239.5 191.2,238.6 191.8,239.8 192.4,240.2 193.0,240.5 193.6,240.0 194.2,238.0 194.8,237.6 195.4,235.0 196.0,233.8 196.6,236.3 197.2,236.7 197.8,238.0 198.4,238.3 199.0,238.3 199.6,238.3 200.2,239.8 200.8,239.1 201.4,239.0 202.0,237.5 202.6,238.0 203.2,235.8 203.8,236.7 204.4,236.7 205.0,238.6 205.6,239.2 206.2,239.3 206.8,239.4 207.4,239.7 208.0,238.2 208.6,236.1 209.2,236.2 209.8,237.6 210.4,239.1 211.0,240.4 211.6,239.2 212.2,239.0 212.8,239.1 213.4,238.8 214.0,238.3 214.6,237.4 215.2,238.7 215.8,238.6 216.4,238.3 217.0,237.1 217.6,235.9 218.2,235.8 218.8,236.8 219.4,237.6 220.0,238.2 220.6,239.0 221.2,239.8 221.8,239.4 222.4,238.4 223.0,239.3 223.6,238.5 224.2,239.5 224.8,239.7 225.4,237.9 226.0,237.0 226.6,236.0 227.2,235.8 227.8,236.8 228.4,237.7 229.0,237.9 229.6,238.2 230.2,237.7 230.8,237.5 231.4,237.7 232.0,237.3 232.6,237.7 233.2,237.0 233.8,236.2 234.4,237.3 235.0,237.0 235.6,237.6 236.2,238.2 236.8,238.0 237.4,237.8 238.0,238.9 238.6,239.0 239.2,240.5 239.8,239.2 240.4,239.2 241.0,235.6 241.6,233.7 242.2,235.2 242.8,235.9 243.4,236.1 244.0,235.3 244.6,236.6 245.2,236.4 245.8,236.6 246.4,237.3 247.0,237.7 247.6,237.5 248.2,237.7 248.8,236.6 249.4,236.1 250.0,236.0 250.6,236.2 251.2,234.3 251.8,235.3 252.4,235.4 253.0,236.7 253.6,237.4 254.2,236.0 254.8,235.6 255.4,233.2 256.0,233.3 256.6,233.1 257.2,234.0 257.8,232.6 258.4,233.1 259.0,231.5 259.6,232.2 260.2,232.4 260.8,232.9 261.4,234.3 262.0,233.7 262.0,266.4 261.4,266.5 260.8,267.2 260.2,269.6 259.6,270.5 259.0,268.4 258.4,268.4 257.8,268.1 257.2,267.8 256.6,269.0 256.0,269.3 255.4,268.5 254.8,269.4 254.2,269.4 253.6,270.2 253.0,269.2 252.4,267.8 251.8,267.8 251.2,266.3 250.6,267.1 250.0,266.4 249.4,267.3 248.8,268.0 248.2,269.5 247.6,269.3 247.0,270.6 246.4,271.5 245.8,269.2 245.2,269.7 244.6,268.5 244.0,267.9 243.4,267.8 242.8,267.7 242.2,267.5 241.6,268.6 241.0,268.5 240.4,268.6 239.8,269.2 239.2,270.3 238.6,268.6 238.0,267.9 237.4,268.4 236.8,268.1 236.2,267.5 235.6,267.5 235.0,268.6 234.4,268.8 233.8,269.0 233.2,269.8 232.6,268.9 232.0,268.5 231.4,268.0 230.8,267.3 230.2,268.6 229.6,267.4 229.0,268.1 228.4,268.1 227.8,268.6 227.2,269.8 226.6,269.2 226.0,269.5 225.4,267.7 224.8,268.5 224.2,268.0 223.6,268.4 223.0,267.9 222.4,268.3 221.8,268.8 221.2,268.5 220.6,268.4 220.0,269.8 219.4,268.8 218.8,268.2 218.2,266.3 217.6,267.5 217.0,267.6 216.4,268.0 215.8,269.0 215.2,268.0 214.6,269.1 214.0,269.3 213.4,269.7 212.8,269.9 212.2,269.1 211.6,268.3 211.0,267.9 210.4,268.8 209.8,268.7 209.2,268.3 208.6,266.7 208.0,268.0 207.4,268.5 206.8,269.4 206.2,271.1 205.6,269.8 205.0,268.6 204.4,267.6 203.8,267.9 203.2,267.5 202.6,268.8 202.0,268.3 201.4,267.3 200.8,268.1 200.2,266.8 199.6,267.3 199.0,268.4 198.4,268.4 197.8,268.6 197.2,267.6 196.6,268.6 196.0,268.0 195.4,268.0 194.8,268.6 194.2,267.2 193.6,267.2 193.0,267.8 192.4,267.7 191.8,268.1 191.2,267.5 190.6,269.7 190.0,270.4 189.4,270.6 188.8,269.6 188.2,269.3 187.6,268.9 187.0,267.4 186.4,267.0 185.8,266.5 185.2,266.5 184.6,267.5 184.0,266.8 183.4,266.9 182.8,267.5 182.2,267.5 181.6,268.9 181.0,270.7 180.4,269.4 179.8,269.9 179.2,268.9 178.6,268.7 178.0,268.4 177.4,267.5 176.8,268.2 176.2,266.7 175.6,267.8 175.0,268.6 174.4,267.9 173.8,269.1 173.2,267.9 172.6,268.8 172.0,269.3 171.4,269.2 170.8,267.5 170.2,268.2 169.6,267.1 169.0,268.1 168.4,268.7 167.8,269.6 167.2,269.8 166.6,270.5 166.0,270.8 165.4,269.6 164.8,269.2 164.2,267.7 163.6,267.2 163.0,267.6 162.4,267.9 161.8,268.0 161.2,268.7 160.6,269.8 160.0,269.9 159.4,269.7 158.8,269.4 158.2,267.8 157.6,266.7 157.0,267.1 156.4,266.8 155.8,267.5 155.2,267.3 154.6,268.0 154.0,268.2 153.4,270.0 152.8,269.2 152.2,269.1 151.6,268.2 151.0,267.5 150.4,267.7 149.8,268.2 149.2,268.2 148.6,268.5 148.0,268.5 147.4,268.8 146.8,267.9 146.2,267.9 145.6,269.4 145.0,268.5 144.4,268.8 143.8,268.1 143.2,268.8 142.6,268.1 142.0,268.3 141.4,268.1 140.8,268.3 140.2,268.3 139.6,267.6 139.0,268.0 138.4,268.3 137.8,269.5 137.2,268.9 136.6,268.8 136.0,269.2 135.4,267.9 134.8,267.5 134.2,267.7 133.6,267.8 133.0,266.9 132.4,267.3 131.8,268.3 131.2,266.9 130.6,267.2 130.0,267.7 129.4,267.7 128.8,267.6 128.2,268.2 127.6,269.5 127.0,268.0 126.4,268.7 125.8,267.9 125.2,268.3 124.6,268.4 124.0,267.5 123.4,268.5 122.8,267.4 122.2,267.4 121.6,267.4 121.0,268.8 120.4,269.7 119.8,269.8 119.2,268.0 118.6,267.2 118.0,266.6 117.4,267.1 116.8,267.0 116.2,266.1 115.6,267.6 115.0,266.8 114.4,267.9 113.8,267.7 113.2,267.2 112.6,267.6 112.0,266.3" fill="#000"/>
<line x1="114.2" y1="236.9" x2="114.2" y2="264.2" stroke="#fff" stroke-width="1.05" stroke-opacity="0.95"/>
<line x1="140.0" y1="235.5" x2="140.0" y2="265.8" stroke="#fff" stroke-width="1.05" stroke-opacity="0.95"/>
<line x1="181.2" y1="236.7" x2="181.2" y2="265.3" stroke="#bfbfbf" stroke-width="1.05" stroke-opacity="0.95"/>
<line x1="220.6" y1="236.1" x2="220.6" y2="255.3" stroke="#bfbfbf" stroke-width="1.05" stroke-opacity="0.95"/>
<line x1="257.4" y1="232.1" x2="257.4" y2="264.8" stroke="#fff" stroke-width="1.05" stroke-opacity="0.95"/>
<path d="M112.0,325.2 L112.6,326.2 L113.2,329.2 L113.8,330.9 L114.4,331.1 L115.0,330.2 L115.6,328.7 L116.2,328.5 L116.8,329.0 L117.4,328.7 L118.0,329.1 L118.6,329.9 L119.2,329.5 L119.8,328.8 L120.4,328.1 L121.0,327.6 L121.6,327.2 L122.2,327.8 L122.8,328.3 L123.4,328.8 L124.0,329.4 L124.6,330.1 L125.2,329.9 L125.8,328.7 L126.4,327.2 L127.0,327.3 L127.6,328.5 L128.2,329.6 L128.8,330.6 L129.4,330.2 L130.0,329.2 L130.6,328.3 L131.2,327.4 L131.8,328.2 L132.4,329.7 L133.0,331.1 L133.6,331.1 L134.2,330.4 L134.8,329.6 L135.4,328.6 L136.0,328.0 L136.6,328.7 L137.2,329.8 L137.8,330.9 L138.4,331.4 L139.0,330.7 L139.6,330.2 L140.2,329.6 L140.8,328.4 L141.4,327.5 L142.0,328.2 L142.6,329.1 L143.2,330.2 L143.8,330.0 L144.4,329.3 L145.0,328.6 L145.6,328.1 L146.2,327.7 L146.8,327.3 L147.4,327.6 L148.0,328.3 L148.6,329.1 L149.2,329.7 L149.8,329.5 L150.4,329.1 L151.0,328.7 L151.6,327.9 L152.2,327.8 L152.8,328.9 L153.4,329.9 L154.0,331.2 L154.6,331.1 L155.2,330.6 L155.8,330.1 L156.4,329.5 L157.0,328.9 L157.6,329.0 L158.2,329.5 L158.8,330.0 L159.4,331.0 L160.0,330.9 L160.6,330.4 L161.2,329.9 L161.8,329.2 L162.4,328.3 L163.0,327.7 L163.6,328.2 L164.2,328.9 L164.8,329.3 L165.4,329.8 L166.0,329.9 L166.6,329.7 L167.2,329.2 L167.8,328.6 L168.4,327.8 L169.0,327.4 L169.6,328.3 L170.2,329.2 L170.8,329.7 L171.4,329.2 L172.0,329.3 L172.6,328.9 L173.2,328.4 L173.8,328.3 L174.4,329.1 L175.0,329.6 L175.6,330.3 L176.2,329.3 L176.8,328.8 L177.4,328.2 L178.0,327.9 L178.6,327.1 L179.2,327.4 L179.8,328.5 L180.4,329.0 L181.0,328.2 L181.6,327.2 L182.2,327.0 L182.8,327.4 L183.4,328.0 L184.0,328.5 L184.6,329.1 L185.2,329.0 L185.8,328.8 L186.4,328.6 L187.0,328.6 L187.6,328.7 L188.2,329.2 L188.8,329.6 L189.4,329.9 L190.0,330.3 L190.6,330.7 L191.2,330.0 L191.8,329.3 L192.4,328.4 L193.0,327.3 L193.6,327.6 L194.2,328.8 L194.8,330.2 L195.4,330.2 L196.0,328.8 L196.6,327.2 L197.2,326.9 L197.8,328.4 L198.4,329.9 L199.0,330.1 L199.6,329.1 L200.2,328.3 L200.8,327.7 L201.4,327.9 L202.0,328.6 L202.6,329.6 L203.2,330.7 L203.8,330.6 L204.4,330.0 L205.0,329.4 L205.6,329.0 L206.2,329.2 L206.8,329.4 L207.4,329.6 L208.0,329.9 L208.6,329.9 L209.2,329.7 L209.8,329.2 L210.4,328.4 L211.0,327.8 L211.6,327.7 L212.2,328.3 L212.8,328.0 L213.4,328.2 L214.0,328.9 L214.6,329.0 L215.2,329.0 L215.8,328.9 L216.4,328.4 L217.0,327.8 L217.6,327.3 L218.2,327.7 L218.8,328.5 L219.4,329.3 L220.0,330.3 L220.6,330.5 L221.2,329.6 L221.8,329.1 L222.4,328.4 L223.0,328.3 L223.6,328.9 L224.2,329.5 L224.8,330.0 L225.4,329.1 L226.0,328.3 L226.6,327.5 L227.2,327.9 L227.8,328.3 L228.4,328.7 L229.0,329.1 L229.6,329.2 L230.2,328.6 L230.8,327.6 L231.4,326.7 L232.0,326.0 L232.6,326.3 L233.2,327.7 L233.8,328.9 L234.4,329.8 L235.0,329.4 L235.6,328.8 L236.2,328.2 L236.8,327.4 L237.4,327.3 L238.0,328.2 L238.6,329.1 L239.2,329.7 L239.8,330.2 L240.4,330.9 L241.0,330.0 L241.6,328.9 L242.2,327.9 L242.8,328.2 L243.4,328.6 L244.0,329.0 L244.6,329.4 L245.2,329.0 L245.8,328.5 L246.4,327.9 L247.0,326.8 L247.6,326.3 L248.2,327.2 L248.8,328.6 L249.4,329.9 L250.0,328.6 L250.6,326.6 L251.2,324.6 L251.8,323.0 L252.4,324.0 L253.0,325.8 L253.6,327.5 L254.2,328.8 L254.8,329.4 L255.4,329.8 L256.0,329.5 L256.6,328.9 L257.2,328.2 L257.8,327.6 L258.4,328.4 L259.0,329.0 L259.6,328.6 L260.2,326.3 L260.8,324.4 L261.4,324.3 L262.0,326.0" fill="none" stroke="#151515" stroke-width="1.1" stroke-linejoin="round"/>
<polygon points="284.2,227.4 284.8,229.0 285.4,230.6 286.0,230.5 286.6,230.5 287.2,230.0 287.8,229.4 288.4,230.3 289.0,231.4 289.6,231.6 290.2,231.4 290.8,230.7 291.4,227.9 292.0,227.3 292.6,226.2 293.2,228.0 293.8,230.1 294.4,232.0 295.0,232.4 295.6,233.4 296.2,233.1 296.8,231.2 297.4,231.0 298.0,229.9 298.6,228.8 299.2,228.6 299.8,231.4 300.4,233.5 301.0,233.1 301.6,234.4 302.2,234.9 302.8,235.0 303.4,235.6 304.0,236.7 304.6,235.6 305.2,237.2 305.8,236.6 306.4,236.5 307.0,237.2 307.6,234.4 308.2,232.6 308.8,233.9 309.4,235.8 310.0,237.0 310.6,238.4 311.2,238.5 311.8,238.9 312.4,238.3 313.0,237.6 313.6,237.1 314.2,236.6 314.8,235.6 315.4,234.7 316.0,236.1 316.6,236.4 317.2,236.5 317.8,236.8 318.4,237.0 319.0,236.1 319.6,236.7 320.2,235.6 320.8,234.3 321.4,236.7 322.0,237.6 322.6,236.5 323.2,238.0 323.8,237.6 324.4,238.4 325.0,239.1 325.6,238.4 326.2,237.8 326.8,237.1 327.4,235.5 328.0,236.4 328.6,236.9 329.2,238.6 329.8,238.2 330.4,239.2 331.0,237.9 331.6,238.2 332.2,237.3 332.8,236.7 333.4,236.6 334.0,235.7 334.6,236.8 335.2,236.0 335.8,237.7 336.4,238.9 337.0,238.2 337.6,238.6 338.2,239.7 338.8,239.5 339.4,240.0 340.0,238.5 340.6,237.3 341.2,236.8 341.8,235.6 342.4,236.8 343.0,237.1 343.6,236.5 344.2,237.6 344.8,238.6 345.4,237.6 346.0,238.8 346.6,238.8 347.2,238.8 347.8,238.5 348.4,236.6 349.0,237.0 349.6,234.7 350.2,235.3 350.8,235.9 351.4,236.0 352.0,237.3 352.6,237.6 353.2,238.5 353.8,237.2 354.4,238.2 355.0,236.9 355.6,238.0 356.2,237.8 356.8,238.7 357.4,237.1 358.0,236.5 358.6,234.7 359.2,236.3 359.8,236.5 360.4,238.6 361.0,239.1 361.6,238.6 362.2,239.1 362.8,238.7 363.4,238.2 364.0,236.4 364.6,237.7 365.2,238.4 365.8,238.1 366.4,236.5 367.0,237.2 367.6,235.9 368.2,237.0 368.8,238.3 369.4,238.3 370.0,238.3 370.6,239.4 371.2,237.5 371.8,236.3 372.4,236.5 373.0,238.1 373.6,237.7 374.2,236.5 374.8,235.4 375.4,235.9 376.0,236.1 376.6,236.5 377.2,236.4 377.8,237.5 378.4,238.7 379.0,237.5 379.6,238.5 380.2,237.8 380.8,239.1 381.4,237.5 382.0,238.6 382.6,238.1 383.2,237.8 383.8,236.2 384.4,236.9 385.0,237.1 385.6,237.7 386.2,237.6 386.8,238.3 387.4,238.9 388.0,237.8 388.6,238.9 389.2,238.1 389.8,237.8 390.4,237.7 391.0,238.0 391.6,238.0 392.2,237.3 392.8,237.2 393.4,236.9 394.0,237.0 394.6,237.9 395.2,236.4 395.8,235.8 396.4,236.0 397.0,235.6 397.6,235.0 398.2,235.6 398.8,235.0 399.4,236.4 400.0,235.5 400.6,235.1 401.2,233.1 401.8,232.3 402.4,234.0 403.0,235.0 403.6,237.5 404.2,237.2 404.8,237.5 405.4,237.2 406.0,236.2 406.6,233.3 407.2,231.7 407.8,232.5 408.4,233.9 409.0,235.6 409.6,235.2 410.2,235.5 410.8,235.4 411.4,236.4 412.0,236.5 412.6,236.5 413.2,236.7 413.8,235.3 414.4,234.4 415.0,234.1 415.6,232.9 416.2,234.4 416.8,235.7 417.4,236.8 418.0,238.4 418.6,238.4 419.2,237.6 419.8,237.8 420.4,237.0 421.0,235.1 421.6,234.0 422.2,233.1 422.8,234.3 423.4,234.6 424.0,234.3 424.6,234.8 425.2,233.8 425.8,233.3 426.4,234.0 427.0,233.0 427.6,232.2 428.2,232.0 428.8,232.1 429.4,232.5 430.0,233.2 430.6,235.3 431.2,235.1 431.8,233.7 432.4,233.7 433.0,232.7 433.6,230.8 433.6,266.5 433.0,267.1 432.4,266.2 431.8,266.7 431.2,267.5 430.6,268.9 430.0,267.1 429.4,266.7 428.8,266.6 428.2,265.8 427.6,266.5 427.0,265.3 426.4,266.4 425.8,266.1 425.2,267.6 424.6,267.8 424.0,266.8 423.4,266.5 422.8,265.2 422.2,264.9 421.6,265.0 421.0,266.3 420.4,266.7 419.8,266.1 419.2,266.6 418.6,266.9 418.0,267.4 417.4,267.5 416.8,268.6 416.2,267.2 415.6,266.6 415.0,267.3 414.4,267.2 413.8,267.1 413.2,267.6 412.6,266.5 412.0,267.3 411.4,266.9 410.8,266.5 410.2,267.8 409.6,268.1 409.0,266.8 408.4,265.9 407.8,266.2 407.2,267.2 406.6,267.4 406.0,266.4 405.4,265.5 404.8,264.9 404.2,265.7 403.6,266.2 403.0,266.4 402.4,266.4 401.8,267.2 401.2,268.3 400.6,267.7 400.0,266.5 399.4,266.7 398.8,267.0 398.2,267.3 397.6,266.5 397.0,267.7 396.4,266.9 395.8,267.1 395.2,266.2 394.6,266.2 394.0,267.5 393.4,267.1 392.8,267.9 392.2,266.6 391.6,265.4 391.0,265.4 390.4,265.5 389.8,265.8 389.2,266.9 388.6,265.9 388.0,265.4 387.4,265.1 386.8,266.2 386.2,265.4 385.6,265.7 385.0,267.5 384.4,267.5 383.8,267.5 383.2,267.4 382.6,266.4 382.0,266.4 381.4,266.3 380.8,266.1 380.2,264.8 379.6,265.2 379.0,266.6 378.4,267.2 377.8,267.7 377.2,267.2 376.6,267.2 376.0,267.4 375.4,265.8 374.8,265.0 374.2,265.9 373.6,266.5 373.0,266.3 372.4,265.8 371.8,266.0 371.2,266.8 370.6,265.8 370.0,266.6 369.4,266.8 368.8,266.1 368.2,267.4 367.6,266.4 367.0,267.0 366.4,266.2 365.8,265.8 365.2,266.5 364.6,266.4 364.0,266.7 363.4,267.4 362.8,266.9 362.2,266.4 361.6,266.7 361.0,267.3 360.4,267.7 359.8,267.7 359.2,266.7 358.6,267.2 358.0,267.7 357.4,266.1 356.8,265.9 356.2,266.1 355.6,266.9 355.0,266.2 354.4,267.8 353.8,266.7 353.2,267.3 352.6,266.9 352.0,265.7 351.4,265.8 350.8,265.4 350.2,265.2 349.6,266.3 349.0,265.4 348.4,265.2 347.8,267.0 347.2,266.4 346.6,267.6 346.0,268.5 345.4,268.8 344.8,267.7 344.2,266.7 343.6,266.6 343.0,266.0 342.4,267.2 341.8,266.0 341.2,266.5 340.6,267.6 340.0,266.9 339.4,267.6 338.8,266.5 338.2,266.3 337.6,268.2 337.0,269.0 336.4,269.2 335.8,268.6 335.2,266.8 334.6,267.0 334.0,266.2 333.4,267.0 332.8,266.0 332.2,266.4 331.6,266.6 331.0,267.2 330.4,266.6 329.8,267.7 329.2,266.6 328.6,267.4 328.0,267.0 327.4,266.6 326.8,265.5 326.2,265.5 325.6,266.7 325.0,266.4 324.4,265.8 323.8,265.6 323.2,265.6 322.6,266.1 322.0,266.5 321.4,267.4 320.8,268.2 320.2,267.7 319.6,267.3 319.0,266.0 318.4,265.2 317.8,265.8 317.2,266.2 316.6,266.3 316.0,266.9 315.4,267.0 314.8,267.2 314.2,266.6 313.6,267.2 313.0,267.4 312.4,268.1 311.8,268.0 311.2,268.9 310.6,267.3 310.0,266.4 309.4,265.1 308.8,265.4 308.2,265.6 307.6,267.0 307.0,267.0 306.4,266.6 305.8,265.0 305.2,264.4 304.6,265.5 304.0,266.1 303.4,266.6 302.8,267.9 302.2,267.4 301.6,267.1 301.0,266.5 300.4,265.5 299.8,266.4 299.2,266.1 298.6,266.1 298.0,266.0 297.4,266.4 296.8,266.4 296.2,265.7 295.6,267.1 295.0,268.0 294.4,268.5 293.8,268.4 293.2,267.0 292.6,266.1 292.0,265.3 291.4,266.0 290.8,266.3 290.2,265.2 289.6,266.0 289.0,266.0 288.4,265.6 287.8,265.5 287.2,266.2 286.6,264.9 286.0,264.5 285.4,264.0 284.8,262.1 284.2,263.5" fill="#000"/>
<line x1="295.2" y1="229.7" x2="295.2" y2="264.0" stroke="#fff" stroke-width="1.05" stroke-opacity="0.95"/>
<line x1="322.2" y1="236.2" x2="322.2" y2="263.5" stroke="#bfbfbf" stroke-width="1.05" stroke-opacity="0.95"/>
<line x1="364.2" y1="236.2" x2="364.2" y2="263.5" stroke="#bfbfbf" stroke-width="1.05" stroke-opacity="0.95"/>
<line x1="403.2" y1="234.8" x2="403.2" y2="264.0" stroke="#fff" stroke-width="1.05" stroke-opacity="0.95"/>
<path d="M284.2,321.6 L284.8,323.4 L285.4,325.4 L286.0,327.8 L286.6,329.3 L287.2,329.6 L287.8,329.4 L288.4,329.3 L289.0,329.4 L289.6,329.9 L290.2,331.1 L290.8,332.3 L291.4,333.1 L292.0,333.9 L292.6,334.6 L293.2,333.6 L293.8,332.3 L294.4,331.2 L295.0,330.7 L295.6,330.3 L296.2,330.9 L296.8,331.3 L297.4,331.4 L298.0,331.2 L298.6,330.9 L299.2,330.2 L299.8,330.4 L300.4,330.4 L301.0,331.0 L301.6,331.8 L302.2,333.0 L302.8,333.9 L303.4,334.4 L304.0,333.7 L304.6,333.0 L305.2,332.0 L305.8,331.6 L306.4,331.8 L307.0,332.0 L307.6,332.3 L308.2,332.3 L308.8,331.7 L309.4,331.1 L310.0,330.5 L310.6,330.6 L311.2,331.6 L311.8,332.6 L312.4,332.8 L313.0,331.9 L313.6,330.6 L314.2,329.3 L314.8,328.4 L315.4,327.6 L316.0,328.6 L316.6,329.6 L317.2,330.5 L317.8,329.8 L318.4,329.1 L319.0,328.0 L319.6,328.5 L320.2,329.3 L320.8,330.1 L321.4,330.3 L322.0,331.2 L322.6,331.1 L323.2,330.7 L323.8,330.2 L324.4,329.5 L325.0,328.8 L325.6,328.9 L326.2,329.3 L326.8,329.6 L327.4,329.2 L328.0,328.7 L328.6,328.3 L329.2,328.0 L329.8,327.5 L330.4,327.5 L331.0,327.9 L331.6,328.5 L332.2,329.2 L332.8,329.6 L333.4,329.5 L334.0,329.2 L334.6,328.5 L335.2,328.0 L335.8,328.1 L336.4,328.7 L337.0,329.4 L337.6,329.9 L338.2,329.9 L338.8,329.5 L339.4,329.2 L340.0,329.1 L340.6,329.0 L341.2,328.8 L341.8,329.3 L342.4,329.7 L343.0,329.8 L343.6,330.0 L344.2,330.6 L344.8,330.1 L345.4,329.1 L346.0,328.1 L346.6,327.0 L347.2,326.2 L347.8,327.2 L348.4,328.3 L349.0,328.8 L349.6,329.4 L350.2,329.8 L350.8,329.5 L351.4,329.5 L352.0,329.2 L352.6,328.8 L353.2,328.4 L353.8,328.5 L354.4,328.6 L355.0,329.3 L355.6,330.3 L356.2,330.5 L356.8,329.8 L357.4,329.6 L358.0,329.3 L358.6,328.8 L359.2,328.8 L359.8,328.6 L360.4,328.3 L361.0,327.4 L361.6,326.4 L362.2,325.2 L362.8,326.3 L363.4,327.6 L364.0,329.1 L364.6,330.1 L365.2,330.4 L365.8,330.7 L366.4,331.1 L367.0,331.5 L367.6,332.5 L368.2,332.7 L368.8,332.2 L369.4,331.9 L370.0,331.6 L370.6,331.1 L371.2,331.6 L371.8,332.4 L372.4,332.7 L373.0,332.8 L373.6,333.3 L374.2,332.9 L374.8,332.3 L375.4,331.9 L376.0,331.0 L376.6,331.3 L377.2,332.1 L377.8,333.3 L378.4,333.8 L379.0,334.3 L379.6,333.3 L380.2,332.1 L380.8,330.6 L381.4,329.5 L382.0,330.0 L382.6,330.6 L383.2,331.2 L383.8,331.8 L384.4,332.0 L385.0,331.2 L385.6,330.4 L386.2,329.5 L386.8,329.0 L387.4,329.6 L388.0,330.4 L388.6,331.4 L389.2,331.1 L389.8,330.7 L390.4,330.0 L391.0,329.9 L391.6,330.3 L392.2,331.1 L392.8,331.4 L393.4,330.5 L394.0,329.4 L394.6,328.7 L395.2,328.2 L395.8,328.5 L396.4,329.2 L397.0,329.8 L397.6,330.4 L398.2,329.4 L398.8,328.4 L399.4,327.9 L400.0,327.3 L400.6,326.9 L401.2,327.5 L401.8,328.2 L402.4,329.2 L403.0,329.4 L403.6,329.1 L404.2,328.9 L404.8,328.4 L405.4,329.0 L406.0,329.7 L406.6,330.2 L407.2,329.9 L407.8,329.4 L408.4,328.8 L409.0,328.2 L409.6,327.2 L410.2,327.3 L410.8,328.0 L411.4,329.3 L412.0,329.7 L412.6,329.0 L413.2,328.2 L413.8,327.7 L414.4,327.6 L415.0,328.2 L415.6,328.5 L416.2,328.5 L416.8,328.2 L417.4,327.2 L418.0,326.4 L418.6,325.7 L419.2,325.6 L419.8,326.6 L420.4,327.6 L421.0,328.3 L421.6,329.1 L422.2,328.6 L422.8,328.0 L423.4,327.3 L424.0,326.5 L424.6,326.6 L425.2,327.2 L425.8,327.8 L426.4,328.2 L427.0,328.1 L427.6,327.4 L428.2,327.3 L428.8,327.0 L429.4,326.5 L430.0,325.9 L430.6,326.2 L431.2,327.0 L431.8,327.8 L432.4,327.4 L433.0,326.2 L433.6,325.6" fill="none" stroke="#151515" stroke-width="1.1" stroke-linejoin="round"/>
<polygon points="458.0,229.3 458.6,229.9 459.2,229.8 459.8,229.0 460.4,228.7 461.0,230.4 461.6,231.9 462.2,232.4 462.8,232.0 463.4,233.3 464.0,231.4 464.6,231.7 465.2,229.3 465.8,229.1 466.4,229.0 467.0,229.7 467.6,230.6 468.2,231.6 468.8,231.5 469.4,231.9 470.0,231.5 470.6,231.2 471.2,229.6 471.8,229.6 472.4,228.9 473.0,230.6 473.6,233.0 474.2,234.1 474.8,234.2 475.4,232.6 476.0,233.9 476.6,234.2 477.2,235.9 477.8,235.3 478.4,235.2 479.0,233.5 479.6,232.8 480.2,232.8 480.8,234.4 481.4,235.0 482.0,235.7 482.6,235.2 483.2,235.7 483.8,236.1 484.4,236.7 485.0,237.1 485.6,237.3 486.2,235.9 486.8,235.1 487.4,234.2 488.0,233.8 488.6,236.2 489.2,239.3 489.8,240.1 490.4,241.0 491.0,240.0 491.6,240.2 492.2,240.4 492.8,240.3 493.4,240.6 494.0,240.0 494.6,239.0 495.2,239.8 495.8,239.5 496.4,239.5 497.0,240.4 497.6,241.1 498.2,241.0 498.8,240.5 499.4,240.9 500.0,241.5 500.6,240.2 501.2,239.7 501.8,238.0 502.4,239.3 503.0,239.7 503.6,239.2 504.2,239.4 504.8,239.5 505.4,239.1 506.0,239.0 506.6,239.1 507.2,240.1 507.8,239.5 508.4,239.9 509.0,239.5 509.6,238.2 510.2,238.4 510.8,238.6 511.4,237.7 512.0,238.4 512.6,239.9 513.2,239.9 513.8,239.7 514.4,239.8 515.0,238.8 515.6,238.0 516.2,236.9 516.8,238.0 517.4,238.8 518.0,239.6 518.6,241.0 519.2,240.8 519.8,241.5 520.4,240.4 521.0,240.2 521.6,239.0 522.2,239.1 522.8,237.1 523.4,237.7 524.0,237.6 524.6,237.3 525.2,237.4 525.8,238.5 526.4,238.8 527.0,240.0 527.6,239.7 528.2,239.5 528.8,238.9 529.4,237.7 530.0,235.6 530.6,237.2 531.2,237.1 531.8,238.2 532.4,239.2 533.0,238.6 533.6,238.2 534.2,238.9 534.8,238.2 535.4,235.8 536.0,236.0 536.6,236.7 537.2,237.8 537.8,237.8 538.4,239.5 539.0,239.2 539.6,238.9 540.2,238.8 540.8,238.6 541.4,239.5 542.0,238.8 542.6,237.5 543.2,237.8 543.8,237.9 544.4,237.5 545.0,237.0 545.6,237.7 546.2,236.7 546.8,237.3 547.4,236.5 548.0,236.5 548.6,236.6 549.2,236.3 549.8,235.2 550.4,234.2 551.0,232.9 551.6,233.0 552.2,232.8 552.8,234.9 553.4,234.8 554.0,235.3 554.6,233.8 555.2,235.3 555.8,234.8 556.4,234.5 557.0,234.9 557.6,234.1 558.2,234.6 558.8,233.8 559.4,235.0 560.0,234.7 560.6,236.3 561.2,236.7 561.8,237.3 562.4,238.2 563.0,237.7 563.6,237.6 564.2,236.2 564.8,235.7 565.4,235.2 566.0,235.9 566.6,236.5 567.2,237.6 567.8,239.4 568.4,239.4 569.0,239.3 569.6,237.9 570.2,238.1 570.8,236.7 571.4,236.1 572.0,236.6 572.6,236.8 573.2,237.4 573.8,238.6 574.4,238.5 575.0,238.5 575.6,239.1 576.2,237.2 576.8,236.2 577.4,236.3 578.0,236.4 578.6,238.0 579.2,237.0 579.8,238.4 580.4,237.3 581.0,237.5 581.6,238.8 582.2,237.4 582.8,235.6 583.4,236.6 584.0,237.3 584.6,238.7 585.2,238.7 585.8,238.9 586.4,238.5 587.0,238.2 587.6,238.4 588.2,237.3 588.8,238.1 589.4,238.4 590.0,238.1 590.6,237.6 591.2,235.0 591.8,232.0 592.4,231.4 593.0,233.1 593.6,234.4 594.2,234.9 594.8,233.1 595.4,233.7 596.0,233.8 596.6,233.2 597.2,233.9 597.8,232.7 598.4,232.2 599.0,231.6 599.6,231.1 600.2,230.2 600.8,232.6 601.4,234.4 602.0,232.0 602.6,231.6 603.2,231.2 603.8,230.9 604.4,230.5 605.0,229.1 605.6,228.7 606.2,227.6 606.8,228.6 607.4,232.0 608.0,231.9 608.0,263.9 607.4,264.8 606.8,265.3 606.2,265.7 605.6,266.9 605.0,267.6 604.4,268.6 603.8,266.6 603.2,265.7 602.6,264.1 602.0,264.4 601.4,264.8 600.8,264.2 600.2,263.6 599.6,263.9 599.0,264.3 598.4,266.4 597.8,265.6 597.2,265.3 596.6,264.2 596.0,264.7 595.4,265.1 594.8,264.5 594.2,264.9 593.6,265.8 593.0,266.0 592.4,265.7 591.8,265.5 591.2,266.7 590.6,265.5 590.0,265.3 589.4,266.3 588.8,265.6 588.2,266.6 587.6,265.8 587.0,266.3 586.4,266.0 585.8,267.0 585.2,266.9 584.6,265.8 584.0,264.9 583.4,264.5 582.8,265.4 582.2,266.5 581.6,268.4 581.0,268.2 580.4,266.6 579.8,267.4 579.2,266.7 578.6,266.2 578.0,267.5 577.4,266.8 576.8,266.3 576.2,266.3 575.6,267.5 575.0,268.2 574.4,268.1 573.8,269.8 573.2,269.2 572.6,269.6 572.0,267.8 571.4,267.2 570.8,267.0 570.2,267.0 569.6,267.8 569.0,268.1 568.4,268.1 567.8,267.3 567.2,267.5 566.6,268.2 566.0,268.3 565.4,269.5 564.8,268.9 564.2,270.6 563.6,269.9 563.0,269.5 562.4,268.5 561.8,268.1 561.2,267.1 560.6,267.5 560.0,266.9 559.4,267.4 558.8,268.1 558.2,268.0 557.6,268.7 557.0,267.8 556.4,268.5 555.8,268.9 555.2,268.6 554.6,268.0 554.0,267.1 553.4,268.3 552.8,267.9 552.2,268.5 551.6,268.0 551.0,267.1 550.4,266.8 549.8,267.7 549.2,268.5 548.6,269.4 548.0,269.3 547.4,267.8 546.8,268.1 546.2,268.4 545.6,268.0 545.0,268.1 544.4,268.5 543.8,268.0 543.2,267.7 542.6,267.3 542.0,269.1 541.4,270.2 540.8,269.2 540.2,269.4 539.6,268.3 539.0,266.4 538.4,266.1 537.8,267.2 537.2,267.6 536.6,268.3 536.0,267.9 535.4,268.5 534.8,267.8 534.2,268.0 533.6,266.4 533.0,267.3 532.4,267.9 531.8,267.2 531.2,267.7 530.6,268.0 530.0,269.0 529.4,268.7 528.8,269.2 528.2,267.7 527.6,267.1 527.0,267.2 526.4,267.7 525.8,267.3 525.2,267.7 524.6,266.6 524.0,267.7 523.4,267.0 522.8,266.4 522.2,266.9 521.6,268.7 521.0,268.2 520.4,269.5 519.8,270.2 519.2,268.1 518.6,267.5 518.0,266.8 517.4,267.5 516.8,266.6 516.2,266.7 515.6,266.5 515.0,267.4 514.4,267.9 513.8,268.4 513.2,269.4 512.6,268.5 512.0,269.6 511.4,268.2 510.8,268.8 510.2,267.8 509.6,267.6 509.0,267.3 508.4,268.1 507.8,268.3 507.2,268.2 506.6,266.3 506.0,267.0 505.4,266.8 504.8,267.3 504.2,268.9 503.6,269.3 503.0,269.0 502.4,267.1 501.8,267.1 501.2,267.7 500.6,266.9 500.0,267.2 499.4,267.9 498.8,267.4 498.2,268.3 497.6,267.3 497.0,266.9 496.4,266.2 495.8,266.0 495.2,267.0 494.6,266.8 494.0,267.6 493.4,267.7 492.8,267.5 492.2,267.1 491.6,266.4 491.0,266.0 490.4,265.6 489.8,266.9 489.2,267.4 488.6,268.6 488.0,268.9 487.4,267.8 486.8,266.5 486.2,267.1 485.6,266.2 485.0,265.4 484.4,266.5 483.8,266.1 483.2,265.4 482.6,265.9 482.0,266.7 481.4,266.0 480.8,267.1 480.2,266.8 479.6,266.5 479.0,266.2 478.4,265.5 477.8,266.2 477.2,266.3 476.6,265.9 476.0,266.6 475.4,266.3 474.8,265.9 474.2,265.6 473.6,265.9 473.0,266.3 472.4,266.6 471.8,266.6 471.2,266.9 470.6,266.5 470.0,265.3 469.4,264.5 468.8,264.8 468.2,265.3 467.6,265.1 467.0,265.6 466.4,266.1 465.8,266.0 465.2,266.3 464.6,266.3 464.0,266.8 463.4,266.4 462.8,264.6 462.2,265.2 461.6,265.1 461.0,264.9 460.4,265.2 459.8,264.1 459.2,264.5 458.6,264.1 458.0,264.8" fill="#000"/>
<line x1="493.0" y1="238.7" x2="493.0" y2="263.2" stroke="#fff" stroke-width="1.05" stroke-opacity="0.95"/>
<line x1="534.0" y1="236.8" x2="534.0" y2="254.8" stroke="#bfbfbf" stroke-width="1.05" stroke-opacity="0.95"/>
<line x1="573.7" y1="236.5" x2="573.7" y2="265.3" stroke="#fff" stroke-width="1.05" stroke-opacity="0.95"/>
<path d="M458.0,330.2 L458.6,330.4 L459.2,331.0 L459.8,331.8 L460.4,332.5 L461.0,332.0 L461.6,331.2 L462.2,331.0 L462.8,331.5 L463.4,331.4 L464.0,331.3 L464.6,331.2 L465.2,331.2 L465.8,330.8 L466.4,330.3 L467.0,329.6 L467.6,329.8 L468.2,330.1 L468.8,330.6 L469.4,331.2 L470.0,332.0 L470.6,332.1 L471.2,331.5 L471.8,331.4 L472.4,331.7 L473.0,331.5 L473.6,331.4 L474.2,331.5 L474.8,330.9 L475.4,329.3 L476.0,327.5 L476.6,325.4 L477.2,325.5 L477.8,327.3 L478.4,329.1 L479.0,330.8 L479.6,330.9 L480.2,331.7 L480.8,332.4 L481.4,332.4 L482.0,332.4 L482.6,331.3 L483.2,330.1 L483.8,329.0 L484.4,329.4 L485.0,329.8 L485.6,330.2 L486.2,330.7 L486.8,331.3 L487.4,331.3 L488.0,330.9 L488.6,330.7 L489.2,330.9 L489.8,331.5 L490.4,331.7 L491.0,332.5 L491.6,332.6 L492.2,331.8 L492.8,331.0 L493.4,331.4 L494.0,332.0 L494.6,332.2 L495.2,332.2 L495.8,331.6 L496.4,330.7 L497.0,329.8 L497.6,328.9 L498.2,328.9 L498.8,329.7 L499.4,330.7 L500.0,331.3 L500.6,330.9 L501.2,330.5 L501.8,330.1 L502.4,329.9 L503.0,330.3 L503.6,331.0 L504.2,331.6 L504.8,332.2 L505.4,332.2 L506.0,332.0 L506.6,331.4 L507.2,330.4 L507.8,329.6 L508.4,329.1 L509.0,329.9 L509.6,330.7 L510.2,331.5 L510.8,332.0 L511.4,332.0 L512.0,331.2 L512.6,330.4 L513.2,329.8 L513.8,329.6 L514.4,329.8 L515.0,330.0 L515.6,330.3 L516.2,330.8 L516.8,331.5 L517.4,331.4 L518.0,330.9 L518.6,330.3 L519.2,329.5 L519.8,328.7 L520.4,329.3 L521.0,330.1 L521.6,330.9 L522.2,331.5 L522.8,331.9 L523.4,331.5 L524.0,331.0 L524.6,330.4 L525.2,329.8 L525.8,329.4 L526.4,330.0 L527.0,330.4 L527.6,330.7 L528.2,331.0 L528.8,329.2 L529.4,327.4 L530.0,325.5 L530.6,324.5 L531.2,325.6 L531.8,326.8 L532.4,328.9 L533.0,330.1 L533.6,331.0 L534.2,331.3 L534.8,331.4 L535.4,330.8 L536.0,330.1 L536.6,329.8 L537.2,329.6 L537.8,329.1 L538.4,329.1 L539.0,329.8 L539.6,330.5 L540.2,331.0 L540.8,331.3 L541.4,331.2 L542.0,331.2 L542.6,330.6 L543.2,329.9 L543.8,329.7 L544.4,329.8 L545.0,330.6 L545.6,331.4 L546.2,331.8 L546.8,331.8 L547.4,330.5 L548.0,329.2 L548.6,328.1 L549.2,329.5 L549.8,330.8 L550.4,331.5 L551.0,331.9 L551.6,331.1 L552.2,330.6 L552.8,330.5 L553.4,329.6 L554.0,328.7 L554.6,329.8 L555.2,330.8 L555.8,330.8 L556.4,331.3 L557.0,332.2 L557.6,331.5 L558.2,330.8 L558.8,330.4 L559.4,330.4 L560.0,330.2 L560.6,327.7 L561.2,325.3 L561.8,321.8 L562.4,321.9 L563.0,323.9 L563.6,325.8 L564.2,328.3 L564.8,328.9 L565.4,328.9 L566.0,328.8 L566.6,329.4 L567.2,330.2 L567.8,329.4 L568.4,328.2 L569.0,327.3 L569.6,326.6 L570.2,325.9 L570.8,326.8 L571.4,328.0 L572.0,329.3 L572.6,329.8 L573.2,328.8 L573.8,328.4 L574.4,327.6 L575.0,327.5 L575.6,328.2 L576.2,329.1 L576.8,330.1 L577.4,329.7 L578.0,329.0 L578.6,328.4 L579.2,328.0 L579.8,327.5 L580.4,327.5 L581.0,327.6 L581.6,327.6 L582.2,328.1 L582.8,328.6 L583.4,328.4 L584.0,328.1 L584.6,327.7 L585.2,327.3 L585.8,326.8 L586.4,327.0 L587.0,327.1 L587.6,327.9 L588.2,329.1 L588.8,329.7 L589.4,329.3 L590.0,328.8 L590.6,328.1 L591.2,327.4 L591.8,327.7 L592.4,328.3 L593.0,328.8 L593.6,329.3 L594.2,329.5 L594.8,329.3 L595.4,328.7 L596.0,328.0 L596.6,327.3 L597.2,327.7 L597.8,328.2 L598.4,328.6 L599.0,328.6 L599.6,327.8 L600.2,327.2 L600.8,326.6 L601.4,325.9 L602.0,325.3 L602.6,325.8 L603.2,326.5 L603.8,326.6 L604.4,327.2 L605.0,327.4 L605.6,326.6 L606.2,325.8 L606.8,325.2 L607.4,325.0 L608.0,325.5" fill="none" stroke="#151515" stroke-width="1.1" stroke-linejoin="round"/>
<polygon points="112.0,413.4 112.6,412.2 113.2,413.5 113.8,416.6 114.4,419.4 115.0,419.1 115.6,419.5 116.2,418.3 116.8,417.5 117.4,418.4 118.0,420.1 118.6,421.9 119.2,421.4 119.8,417.7 120.4,415.2 121.0,414.1 121.6,415.8 122.2,418.2 122.8,421.9 123.4,425.0 124.0,424.3 124.6,424.1 125.2,422.1 125.8,422.5 126.4,421.2 127.0,420.8 127.6,420.9 128.2,420.4 128.8,421.3 129.4,420.9 130.0,422.4 130.6,424.4 131.2,425.9 131.8,425.7 132.4,425.7 133.0,425.3 133.6,424.9 134.2,426.1 134.8,424.8 135.4,423.3 136.0,422.6 136.6,420.9 137.2,418.5 137.8,416.0 138.4,415.9 139.0,419.0 139.6,420.6 140.2,422.7 140.8,425.4 141.4,424.9 142.0,424.8 142.6,424.2 143.2,424.8 143.8,424.7 144.4,423.0 145.0,424.2 145.6,423.1 146.2,419.6 146.8,416.4 147.4,416.9 148.0,417.6 148.6,420.7 149.2,421.0 149.8,421.1 150.4,422.3 151.0,421.9 151.6,420.1 152.2,420.9 152.8,419.5 153.4,419.9 154.0,420.3 154.6,420.6 155.2,419.4 155.8,419.6 156.4,417.8 157.0,419.4 157.6,419.3 158.2,419.6 158.8,420.3 159.4,420.1 160.0,419.4 160.6,420.6 161.2,420.1 161.8,418.9 162.4,419.0 163.0,417.5 163.6,417.4 164.2,418.6 164.8,419.8 165.4,420.2 166.0,419.1 166.6,419.6 167.2,419.1 167.8,420.5 168.4,419.3 169.0,419.2 169.6,419.6 170.2,420.1 170.8,418.6 171.4,419.0 172.0,418.5 172.6,419.6 173.2,420.3 173.8,420.3 174.4,419.9 175.0,420.3 175.6,420.3 176.2,420.2 176.8,419.3 177.4,419.2 178.0,418.1 178.6,416.9 179.2,417.0 179.8,419.0 180.4,419.3 181.0,419.7 181.6,419.9 182.2,419.1 182.8,419.8 183.4,419.5 184.0,419.3 184.6,419.5 185.2,418.7 185.8,418.0 186.4,417.1 187.0,416.9 187.6,418.5 188.2,419.7 188.8,419.5 189.4,420.0 190.0,419.6 190.6,419.0 191.2,419.4 191.8,419.6 192.4,418.7 193.0,419.6 193.6,419.4 194.2,420.7 194.8,419.9 195.4,418.8 196.0,419.1 196.6,419.1 197.2,418.9 197.8,419.9 198.4,419.8 199.0,420.2 199.6,419.7 200.2,420.4 200.8,419.7 201.4,419.1 202.0,419.3 202.6,419.2 203.2,419.2 203.8,419.0 204.4,419.7 205.0,420.1 205.6,420.0 206.2,420.2 206.8,420.0 207.4,420.5 208.0,419.5 208.6,418.8 209.2,418.3 209.8,416.0 210.4,416.7 211.0,417.6 211.6,419.2 212.2,418.6 212.8,418.2 213.4,418.6 214.0,419.4 214.6,419.3 215.2,418.1 215.8,417.5 216.4,416.4 217.0,416.8 217.6,418.3 218.2,418.9 218.8,420.0 219.4,419.0 220.0,418.5 220.6,418.2 221.2,417.0 221.8,415.7 222.4,415.5 223.0,417.0 223.6,417.8 224.2,418.8 224.8,418.7 225.4,419.8 226.0,419.4 226.6,418.5 227.2,418.4 227.8,419.8 228.4,419.9 229.0,419.8 229.6,418.8 230.2,417.5 230.8,415.1 231.4,416.5 232.0,417.8 232.6,419.3 233.2,420.4 233.8,422.3 234.4,423.8 235.0,423.5 235.6,424.1 236.2,423.8 236.8,424.0 237.4,423.6 238.0,421.9 238.6,421.8 239.2,422.1 239.8,425.0 240.4,425.5 241.0,427.9 241.6,428.0 242.2,427.0 242.8,425.7 243.4,424.9 244.0,423.3 244.6,424.1 245.2,423.6 245.8,423.8 246.4,423.3 247.0,423.4 247.6,422.8 248.2,423.5 248.8,421.9 249.4,421.7 250.0,421.7 250.6,423.0 251.2,423.9 251.8,423.3 252.4,423.1 253.0,423.6 253.6,422.7 254.2,421.1 254.8,421.2 255.4,421.9 256.0,422.2 256.6,422.8 257.2,422.4 257.8,423.1 258.4,422.7 259.0,422.3 259.6,422.0 260.2,421.7 260.8,421.8 261.4,421.3 262.0,420.4 262.0,452.3 261.4,452.8 260.8,452.3 260.2,451.9 259.6,450.7 259.0,451.7 258.4,451.8 257.8,451.4 257.2,452.0 256.6,451.9 256.0,453.4 255.4,452.9 254.8,452.6 254.2,452.8 253.6,451.5 253.0,450.8 252.4,451.9 251.8,451.7 251.2,451.9 250.6,451.2 250.0,451.5 249.4,450.4 248.8,452.2 248.2,453.0 247.6,454.0 247.0,453.3 246.4,452.2 245.8,450.7 245.2,450.4 244.6,449.7 244.0,450.0 243.4,451.0 242.8,450.9 242.2,451.5 241.6,452.1 241.0,450.9 240.4,450.7 239.8,451.7 239.2,451.8 238.6,450.5 238.0,450.8 237.4,451.8 236.8,450.6 236.2,451.4 235.6,450.6 235.0,449.7 234.4,449.9 233.8,450.9 233.2,449.9 232.6,450.3 232.0,452.0 231.4,452.6 230.8,453.7 230.2,452.9 229.6,453.6 229.0,452.4 228.4,451.2 227.8,451.4 227.2,450.3 226.6,451.1 226.0,450.2 225.4,451.1 224.8,451.5 224.2,451.1 223.6,452.1 223.0,452.9 222.4,453.0 221.8,452.1 221.2,451.5 220.6,451.1 220.0,452.2 219.4,451.3 218.8,451.2 218.2,452.0 217.6,452.2 217.0,451.3 216.4,451.9 215.8,452.2 215.2,451.6 214.6,452.0 214.0,451.4 213.4,450.8 212.8,450.6 212.2,451.0 211.6,452.2 211.0,452.4 210.4,452.7 209.8,453.3 209.2,451.5 208.6,451.2 208.0,451.4 207.4,450.7 206.8,451.4 206.2,451.7 205.6,451.1 205.0,451.5 204.4,451.3 203.8,451.7 203.2,451.6 202.6,451.7 202.0,452.3 201.4,452.7 200.8,452.2 200.2,451.8 199.6,451.5 199.0,451.8 198.4,450.4 197.8,451.5 197.2,450.6 196.6,450.8 196.0,451.2 195.4,451.2 194.8,450.8 194.2,451.6 193.6,451.0 193.0,451.3 192.4,452.1 191.8,451.2 191.2,450.9 190.6,451.0 190.0,450.7 189.4,452.1 188.8,452.9 188.2,452.9 187.6,452.5 187.0,452.4 186.4,452.6 185.8,451.1 185.2,451.3 184.6,451.5 184.0,451.1 183.4,452.3 182.8,451.7 182.2,452.4 181.6,452.0 181.0,451.1 180.4,451.8 179.8,451.1 179.2,450.8 178.6,451.8 178.0,451.5 177.4,451.0 176.8,452.1 176.2,452.1 175.6,451.5 175.0,451.4 174.4,451.3 173.8,451.9 173.2,452.5 172.6,452.3 172.0,451.0 171.4,450.3 170.8,451.8 170.2,451.4 169.6,451.5 169.0,451.4 168.4,450.7 167.8,451.4 167.2,451.7 166.6,451.3 166.0,451.7 165.4,452.1 164.8,452.0 164.2,451.7 163.6,451.8 163.0,451.7 162.4,451.6 161.8,452.0 161.2,451.9 160.6,452.1 160.0,452.2 159.4,451.3 158.8,451.6 158.2,452.8 157.6,452.3 157.0,452.5 156.4,453.2 155.8,453.0 155.2,452.3 154.6,451.6 154.0,452.2 153.4,451.6 152.8,451.8 152.2,451.1 151.6,451.6 151.0,450.9 150.4,451.0 149.8,450.4 149.2,451.8 148.6,451.9 148.0,453.0 147.4,452.2 146.8,453.0 146.2,451.8 145.6,450.1 145.0,451.3 144.4,451.1 143.8,451.2 143.2,450.7 142.6,451.0 142.0,451.6 141.4,452.0 140.8,451.5 140.2,451.0 139.6,452.7 139.0,453.5 138.4,451.5 137.8,450.4 137.2,450.1 136.6,448.1 136.0,449.6 135.4,451.2 134.8,451.1 134.2,451.9 133.6,452.5 133.0,452.9 132.4,451.5 131.8,451.1 131.2,450.6 130.6,450.4 130.0,450.6 129.4,452.2 128.8,452.9 128.2,455.1 127.6,454.4 127.0,454.8 126.4,453.6 125.8,451.8 125.2,451.7 124.6,451.0 124.0,450.8 123.4,451.6 122.8,450.9 122.2,451.0 121.6,452.4 121.0,452.5 120.4,450.8 119.8,450.8 119.2,449.8 118.6,449.3 118.0,448.9 117.4,449.7 116.8,450.1 116.2,449.9 115.6,448.7 115.0,450.2 114.4,449.2 113.8,450.0 113.2,452.6 112.6,454.4 112.0,453.7" fill="#000"/>
<line x1="146.5" y1="419.6" x2="146.5" y2="438.5" stroke="#fff" stroke-width="1.05" stroke-opacity="0.95"/>
<line x1="190.4" y1="417.8" x2="190.4" y2="449.0" stroke="#bfbfbf" stroke-width="1.05" stroke-opacity="0.95"/>
<line x1="230.6" y1="417.9" x2="230.6" y2="448.5" stroke="#fff" stroke-width="1.05" stroke-opacity="0.95"/>
<path d="M112.0,506.5 L112.6,507.3 L113.2,510.2 L113.8,513.1 L114.4,515.7 L115.0,517.2 L115.6,517.8 L116.2,517.8 L116.8,517.1 L117.4,515.9 L118.0,514.7 L118.6,515.8 L119.2,517.5 L119.8,518.7 L120.4,519.7 L121.0,519.0 L121.6,518.0 L122.2,516.9 L122.8,516.3 L123.4,516.9 L124.0,516.9 L124.6,516.5 L125.2,518.0 L125.8,519.1 L126.4,519.6 L127.0,516.7 L127.6,513.1 L128.2,509.2 L128.8,507.3 L129.4,511.4 L130.0,515.4 L130.6,519.4 L131.2,521.1 L131.8,519.6 L132.4,518.2 L133.0,517.0 L133.6,516.3 L134.2,516.5 L134.8,517.7 L135.4,519.6 L136.0,520.6 L136.6,520.4 L137.2,518.9 L137.8,517.6 L138.4,516.7 L139.0,517.1 L139.6,517.8 L140.2,518.3 L140.8,518.7 L141.4,518.5 L142.0,518.1 L142.6,517.9 L143.2,517.7 L143.8,517.4 L144.4,517.1 L145.0,517.5 L145.6,518.2 L146.2,518.9 L146.8,519.5 L147.4,519.8 L148.0,519.1 L148.6,518.3 L149.2,517.2 L149.8,517.0 L150.4,517.7 L151.0,518.5 L151.6,519.1 L152.2,519.7 L152.8,519.1 L153.4,518.4 L154.0,517.8 L154.6,517.1 L155.2,517.7 L155.8,518.5 L156.4,519.5 L157.0,519.8 L157.6,519.4 L158.2,518.8 L158.8,518.2 L159.4,517.2 L160.0,516.7 L160.6,517.3 L161.2,518.0 L161.8,518.7 L162.4,518.4 L163.0,517.9 L163.6,517.5 L164.2,517.3 L164.8,518.0 L165.4,518.2 L166.0,518.6 L166.6,519.2 L167.2,519.9 L167.8,520.2 L168.4,519.7 L169.0,518.8 L169.6,518.2 L170.2,518.4 L170.8,518.9 L171.4,519.4 L172.0,520.2 L172.6,519.7 L173.2,519.1 L173.8,518.4 L174.4,517.6 L175.0,518.0 L175.6,518.6 L176.2,519.2 L176.8,519.5 L177.4,519.9 L178.0,519.0 L178.6,518.0 L179.2,516.8 L179.8,516.1 L180.4,516.9 L181.0,517.7 L181.6,518.5 L182.2,519.2 L182.8,519.1 L183.4,519.0 L184.0,519.0 L184.6,518.4 L185.2,517.8 L185.8,517.7 L186.4,518.4 L187.0,519.1 L187.6,519.9 L188.2,520.2 L188.8,519.7 L189.4,518.7 L190.0,517.9 L190.6,517.0 L191.2,517.2 L191.8,517.9 L192.4,518.5 L193.0,518.9 L193.6,518.6 L194.2,517.5 L194.8,516.3 L195.4,515.9 L196.0,516.5 L196.6,516.5 L197.2,516.2 L197.8,516.8 L198.4,517.6 L199.0,517.7 L199.6,517.3 L200.2,516.8 L200.8,515.5 L201.4,515.8 L202.0,516.8 L202.6,517.0 L203.2,517.9 L203.8,518.4 L204.4,516.7 L205.0,515.2 L205.6,514.0 L206.2,515.4 L206.8,516.6 L207.4,517.7 L208.0,516.6 L208.6,515.8 L209.2,514.7 L209.8,513.9 L210.4,514.5 L211.0,515.2 L211.6,515.9 L212.2,516.5 L212.8,516.8 L213.4,516.2 L214.0,515.1 L214.6,514.6 L215.2,514.9 L215.8,515.4 L216.4,516.1 L217.0,517.3 L217.6,518.4 L218.2,517.9 L218.8,516.9 L219.4,516.9 L220.0,516.4 L220.6,515.9 L221.2,516.0 L221.8,516.8 L222.4,517.1 L223.0,517.4 L223.6,518.1 L224.2,518.8 L224.8,518.2 L225.4,516.8 L226.0,515.9 L226.6,514.7 L227.2,513.3 L227.8,514.2 L228.4,515.6 L229.0,516.7 L229.6,517.1 L230.2,515.9 L230.8,514.8 L231.4,514.8 L232.0,515.0 L232.6,515.2 L233.2,515.8 L233.8,518.0 L234.4,518.4 L235.0,516.8 L235.6,515.7 L236.2,514.8 L236.8,513.9 L237.4,513.0 L238.0,514.7 L238.6,516.2 L239.2,517.7 L239.8,519.5 L240.4,518.4 L241.0,516.1 L241.6,514.3 L242.2,513.3 L242.8,514.7 L243.4,516.1 L244.0,517.5 L244.6,517.8 L245.2,516.8 L245.8,515.9 L246.4,515.0 L247.0,514.8 L247.6,515.3 L248.2,516.2 L248.8,517.6 L249.4,517.9 L250.0,516.7 L250.6,514.4 L251.2,512.5 L251.8,510.2 L252.4,511.1 L253.0,513.2 L253.6,515.9 L254.2,519.1 L254.8,518.9 L255.4,517.9 L256.0,517.3 L256.6,516.7 L257.2,516.1 L257.8,516.8 L258.4,518.4 L259.0,519.5 L259.6,520.1 L260.2,518.8 L260.8,517.4 L261.4,516.4 L262.0,517.1" fill="none" stroke="#151515" stroke-width="1.1" stroke-linejoin="round"/>
<polygon points="284.2,418.5 284.8,419.3 285.4,420.1 286.0,420.9 286.6,420.5 287.2,421.5 287.8,422.1 288.4,422.0 289.0,420.8 289.6,421.4 290.2,420.1 290.8,419.1 291.4,418.6 292.0,418.6 292.6,419.6 293.2,421.2 293.8,422.8 294.4,422.6 295.0,422.7 295.6,423.0 296.2,422.2 296.8,422.3 297.4,423.1 298.0,423.1 298.6,423.4 299.2,423.8 299.8,421.1 300.4,419.9 301.0,419.6 301.6,420.6 302.2,420.9 302.8,421.9 303.4,422.3 304.0,422.1 304.6,422.8 305.2,423.5 305.8,423.0 306.4,423.7 307.0,422.7 307.6,421.8 308.2,421.6 308.8,420.7 309.4,419.3 310.0,420.0 310.6,422.5 311.2,422.9 311.8,423.4 312.4,423.0 313.0,422.0 313.6,421.5 314.2,421.9 314.8,421.7 315.4,420.2 316.0,419.7 316.6,417.5 317.2,419.3 317.8,421.6 318.4,423.7 319.0,423.9 319.6,423.6 320.2,424.1 320.8,423.1 321.4,423.4 322.0,423.8 322.6,422.6 323.2,421.0 323.8,419.9 324.4,420.0 325.0,420.4 325.6,421.7 326.2,423.1 326.8,421.9 327.4,422.7 328.0,422.3 328.6,422.3 329.2,421.5 329.8,419.9 330.4,420.0 331.0,419.2 331.6,420.4 332.2,420.4 332.8,421.9 333.4,421.6 334.0,421.7 334.6,421.2 335.2,420.2 335.8,419.3 336.4,418.4 337.0,419.9 337.6,421.0 338.2,421.6 338.8,421.0 339.4,421.8 340.0,422.3 340.6,421.3 341.2,419.9 341.8,419.1 342.4,418.9 343.0,418.3 343.6,418.2 344.2,418.5 344.8,419.4 345.4,419.7 346.0,419.8 346.6,418.9 347.2,418.6 347.8,417.5 348.4,416.8 349.0,416.5 349.6,416.3 350.2,416.6 350.8,417.8 351.4,418.5 352.0,419.6 352.6,420.0 353.2,419.8 353.8,419.1 354.4,420.4 355.0,419.4 355.6,419.7 356.2,419.8 356.8,419.6 357.4,419.6 358.0,417.8 358.6,418.7 359.2,419.4 359.8,420.8 360.4,419.3 361.0,418.6 361.6,418.6 362.2,417.9 362.8,417.4 363.4,415.1 364.0,414.8 364.6,415.8 365.2,415.6 365.8,417.0 366.4,417.4 367.0,418.1 367.6,418.3 368.2,417.3 368.8,417.3 369.4,418.9 370.0,417.7 370.6,417.7 371.2,415.6 371.8,414.2 372.4,415.3 373.0,415.1 373.6,415.8 374.2,417.2 374.8,417.6 375.4,416.8 376.0,417.7 376.6,418.4 377.2,418.0 377.8,419.0 378.4,418.6 379.0,418.3 379.6,415.9 380.2,415.8 380.8,414.8 381.4,414.4 382.0,415.4 382.6,416.3 383.2,416.7 383.8,415.2 384.4,415.1 385.0,416.0 385.6,415.3 386.2,414.8 386.8,414.8 387.4,415.5 388.0,416.5 388.6,416.2 389.2,418.5 389.8,418.3 390.4,420.0 391.0,418.4 391.6,418.9 392.2,419.5 392.8,418.0 393.4,419.4 394.0,418.0 394.6,417.9 395.2,417.4 395.8,417.1 396.4,418.6 397.0,418.7 397.6,418.9 398.2,419.7 398.8,419.0 399.4,420.0 400.0,420.9 400.6,421.1 401.2,421.4 401.8,421.6 402.4,420.4 403.0,418.6 403.6,419.5 404.2,420.6 404.8,420.5 405.4,421.0 406.0,420.7 406.6,421.2 407.2,423.3 407.8,422.0 408.4,422.1 409.0,420.3 409.6,419.4 410.2,418.2 410.8,417.2 411.4,420.0 412.0,421.0 412.6,422.2 413.2,421.9 413.8,422.9 414.4,421.6 415.0,422.2 415.6,421.2 416.2,420.8 416.8,420.3 417.4,420.6 418.0,418.8 418.6,419.7 419.2,420.5 419.8,420.4 420.4,420.5 421.0,421.2 421.6,420.5 422.2,420.1 422.8,419.4 423.4,419.9 424.0,418.7 424.6,417.6 425.2,417.8 425.8,418.7 426.4,419.1 427.0,419.2 427.6,419.1 428.2,418.7 428.8,419.9 429.4,420.4 430.0,419.9 430.6,419.7 431.2,420.1 431.8,420.0 432.4,419.0 433.0,420.3 433.6,420.8 433.6,450.7 433.0,448.8 432.4,448.6 431.8,449.5 431.2,449.3 430.6,448.5 430.0,449.4 429.4,449.0 428.8,448.9 428.2,449.1 427.6,449.6 427.0,449.9 426.4,450.0 425.8,451.1 425.2,449.4 424.6,449.5 424.0,448.8 423.4,449.3 422.8,447.8 422.2,448.9 421.6,448.8 421.0,447.9 420.4,449.1 419.8,448.7 419.2,449.5 418.6,450.4 418.0,449.6 417.4,450.3 416.8,449.5 416.2,450.6 415.6,450.4 415.0,450.2 414.4,450.0 413.8,449.9 413.2,449.5 412.6,448.7 412.0,450.6 411.4,450.6 410.8,451.1 410.2,450.8 409.6,450.7 409.0,451.1 408.4,450.3 407.8,448.0 407.2,448.0 406.6,448.0 406.0,448.9 405.4,449.3 404.8,449.6 404.2,449.1 403.6,451.0 403.0,450.1 402.4,451.9 401.8,451.4 401.2,450.9 400.6,451.2 400.0,450.8 399.4,449.8 398.8,450.4 398.2,449.4 397.6,448.5 397.0,448.8 396.4,448.5 395.8,448.6 395.2,450.1 394.6,449.6 394.0,451.0 393.4,451.0 392.8,449.2 392.2,448.9 391.6,448.8 391.0,449.1 390.4,449.5 389.8,449.7 389.2,450.3 388.6,450.9 388.0,450.9 387.4,450.9 386.8,450.4 386.2,450.7 385.6,451.6 385.0,451.9 384.4,451.9 383.8,451.5 383.2,451.1 382.6,451.3 382.0,450.7 381.4,451.4 380.8,451.8 380.2,451.8 379.6,451.9 379.0,452.7 378.4,452.2 377.8,451.5 377.2,452.1 376.6,453.4 376.0,453.8 375.4,453.8 374.8,453.2 374.2,452.7 373.6,451.8 373.0,452.3 372.4,452.8 371.8,453.0 371.2,452.4 370.6,451.4 370.0,451.8 369.4,451.9 368.8,451.9 368.2,452.9 367.6,453.5 367.0,452.7 366.4,453.2 365.8,452.8 365.2,451.8 364.6,451.3 364.0,451.2 363.4,450.2 362.8,450.8 362.2,451.3 361.6,450.5 361.0,450.2 360.4,451.0 359.8,452.6 359.2,452.6 358.6,451.3 358.0,452.6 357.4,452.2 356.8,452.2 356.2,451.7 355.6,450.3 355.0,450.6 354.4,450.7 353.8,451.3 353.2,450.7 352.6,450.7 352.0,451.2 351.4,450.3 350.8,450.6 350.2,451.7 349.6,452.1 349.0,452.3 348.4,452.8 347.8,452.6 347.2,452.4 346.6,451.7 346.0,450.7 345.4,450.8 344.8,452.2 344.2,451.4 343.6,451.7 343.0,452.5 342.4,452.6 341.8,453.5 341.2,453.6 340.6,453.3 340.0,452.9 339.4,452.9 338.8,452.6 338.2,452.6 337.6,451.7 337.0,451.8 336.4,451.7 335.8,451.5 335.2,451.9 334.6,452.0 334.0,452.7 333.4,453.1 332.8,454.0 332.2,454.0 331.6,452.7 331.0,452.4 330.4,451.2 329.8,452.2 329.2,451.2 328.6,451.9 328.0,451.8 327.4,452.4 326.8,452.6 326.2,452.1 325.6,452.5 325.0,453.1 324.4,452.1 323.8,453.0 323.2,451.9 322.6,452.7 322.0,451.7 321.4,451.5 320.8,451.4 320.2,452.8 319.6,452.9 319.0,454.0 318.4,453.2 317.8,453.7 317.2,452.9 316.6,451.7 316.0,451.1 315.4,451.7 314.8,450.9 314.2,452.0 313.6,452.5 313.0,453.2 312.4,454.1 311.8,452.0 311.2,451.8 310.6,451.0 310.0,450.2 309.4,450.2 308.8,451.5 308.2,451.7 307.6,452.2 307.0,453.9 306.4,454.6 305.8,454.7 305.2,454.1 304.6,452.8 304.0,452.0 303.4,451.0 302.8,451.7 302.2,450.8 301.6,451.4 301.0,451.7 300.4,450.8 299.8,452.2 299.2,453.0 298.6,453.8 298.0,453.9 297.4,452.5 296.8,452.1 296.2,451.7 295.6,451.6 295.0,451.9 294.4,452.5 293.8,451.9 293.2,450.9 292.6,451.2 292.0,450.8 291.4,450.5 290.8,451.2 290.2,452.3 289.6,452.1 289.0,451.1 288.4,449.9 287.8,448.9 287.2,448.4 286.6,448.4 286.0,448.3 285.4,449.7 284.8,449.3 284.2,448.3" fill="#000"/>
<line x1="298.8" y1="421.2" x2="298.8" y2="448.0" stroke="#fff" stroke-width="1.05" stroke-opacity="0.95"/>
<line x1="339.0" y1="418.7" x2="339.0" y2="449.0" stroke="#bfbfbf" stroke-width="1.05" stroke-opacity="0.95"/>
<line x1="378.9" y1="415.1" x2="378.9" y2="448.5" stroke="#bfbfbf" stroke-width="1.05" stroke-opacity="0.95"/>
<line x1="415.7" y1="419.4" x2="415.7" y2="446.4" stroke="#fff" stroke-width="1.05" stroke-opacity="0.95"/>
<path d="M284.2,517.4 L284.8,517.5 L285.4,518.7 L286.0,520.0 L286.6,520.9 L287.2,520.7 L287.8,519.4 L288.4,516.2 L289.0,513.6 L289.6,511.4 L290.2,509.0 L290.8,511.7 L291.4,513.5 L292.0,515.4 L292.6,516.3 L293.2,517.3 L293.8,517.9 L294.4,518.5 L295.0,519.0 L295.6,518.0 L296.2,516.9 L296.8,516.2 L297.4,515.5 L298.0,515.8 L298.6,516.6 L299.2,516.8 L299.8,516.9 L300.4,515.8 L301.0,515.2 L301.6,514.7 L302.2,514.0 L302.8,514.5 L303.4,515.6 L304.0,516.8 L304.6,517.8 L305.2,518.6 L305.8,519.0 L306.4,517.9 L307.0,516.8 L307.6,516.1 L308.2,516.9 L308.8,517.2 L309.4,517.6 L310.0,518.3 L310.6,518.4 L311.2,517.1 L311.8,517.0 L312.4,516.9 L313.0,517.1 L313.6,517.4 L314.2,518.2 L314.8,517.7 L315.4,516.9 L316.0,516.1 L316.6,515.3 L317.2,514.6 L317.8,516.0 L318.4,517.1 L319.0,518.3 L319.6,517.9 L320.2,517.4 L320.8,516.8 L321.4,516.1 L322.0,515.3 L322.6,516.7 L323.2,518.7 L323.8,521.1 L324.4,521.1 L325.0,520.5 L325.6,519.9 L326.2,518.5 L326.8,516.7 L327.4,516.5 L328.0,517.1 L328.6,518.5 L329.2,518.6 L329.8,516.8 L330.4,515.0 L331.0,513.9 L331.6,515.5 L332.2,517.3 L332.8,518.6 L333.4,517.6 L334.0,516.0 L334.6,514.3 L335.2,513.1 L335.8,513.1 L336.4,514.7 L337.0,516.1 L337.6,517.3 L338.2,517.5 L338.8,517.3 L339.4,517.4 L340.0,517.2 L340.6,516.0 L341.2,516.0 L341.8,516.9 L342.4,518.2 L343.0,519.0 L343.6,518.6 L344.2,516.7 L344.8,514.9 L345.4,514.0 L346.0,514.7 L346.6,515.4 L347.2,516.2 L347.8,517.6 L348.4,519.3 L349.0,519.5 L349.6,518.7 L350.2,517.5 L350.8,516.3 L351.4,515.8 L352.0,516.9 L352.6,517.5 L353.2,518.1 L353.8,519.3 L354.4,519.2 L355.0,517.1 L355.6,515.4 L356.2,514.6 L356.8,515.8 L357.4,516.5 L358.0,516.7 L358.6,516.7 L359.2,515.8 L359.8,515.6 L360.4,515.5 L361.0,514.3 L361.6,514.3 L362.2,515.3 L362.8,516.3 L363.4,516.6 L364.0,515.9 L364.6,514.8 L365.2,514.1 L365.8,513.7 L366.4,514.3 L367.0,514.8 L367.6,515.4 L368.2,516.1 L368.8,515.2 L369.4,513.8 L370.0,512.5 L370.6,513.0 L371.2,513.2 L371.8,514.0 L372.4,514.0 L373.0,513.4 L373.6,512.8 L374.2,512.0 L374.8,511.5 L375.4,512.6 L376.0,513.7 L376.6,514.0 L377.2,515.0 L377.8,514.6 L378.4,513.6 L379.0,512.4 L379.6,511.7 L380.2,511.4 L380.8,511.7 L381.4,512.0 L382.0,512.6 L382.6,512.8 L383.2,512.8 L383.8,512.5 L384.4,512.0 L385.0,511.2 L385.6,510.7 L386.2,511.8 L386.8,512.4 L387.4,513.1 L388.0,514.3 L388.6,513.8 L389.2,512.3 L389.8,511.0 L390.4,511.0 L391.0,512.1 L391.6,513.1 L392.2,513.2 L392.8,512.1 L393.4,511.4 L394.0,510.9 L394.6,512.2 L395.2,513.5 L395.8,514.0 L396.4,514.1 L397.0,513.7 L397.6,513.5 L398.2,512.9 L398.8,512.2 L399.4,511.8 L400.0,512.2 L400.6,512.7 L401.2,513.2 L401.8,514.1 L402.4,515.0 L403.0,514.3 L403.6,513.6 L404.2,512.5 L404.8,511.7 L405.4,512.9 L406.0,514.1 L406.6,514.6 L407.2,514.0 L407.8,513.5 L408.4,513.0 L409.0,512.5 L409.6,512.9 L410.2,514.3 L410.8,515.8 L411.4,516.0 L412.0,516.1 L412.6,515.8 L413.2,515.2 L413.8,514.8 L414.4,514.4 L415.0,515.2 L415.6,516.5 L416.2,517.8 L416.8,518.2 L417.4,516.7 L418.0,515.4 L418.6,514.2 L419.2,513.1 L419.8,513.5 L420.4,514.7 L421.0,516.0 L421.6,517.4 L422.2,518.1 L422.8,517.7 L423.4,516.8 L424.0,515.9 L424.6,516.1 L425.2,516.0 L425.8,514.1 L426.4,512.7 L427.0,510.1 L427.6,510.1 L428.2,511.5 L428.8,512.9 L429.4,514.5 L430.0,514.4 L430.6,515.2 L431.2,515.7 L431.8,515.9 L432.4,515.9 L433.0,515.2 L433.6,514.5" fill="none" stroke="#151515" stroke-width="1.1" stroke-linejoin="round"/>
<polygon points="458.0,415.9 458.6,419.2 459.2,419.2 459.8,420.1 460.4,420.2 461.0,419.6 461.6,420.2 462.2,420.8 462.8,421.0 463.4,422.0 464.0,422.1 464.6,423.4 465.2,423.9 465.8,422.7 466.4,422.0 467.0,421.8 467.6,421.7 468.2,423.1 468.8,423.6 469.4,423.5 470.0,424.5 470.6,424.2 471.2,425.2 471.8,424.1 472.4,425.5 473.0,424.2 473.6,425.4 474.2,424.0 474.8,424.3 475.4,424.2 476.0,424.3 476.6,424.4 477.2,423.7 477.8,425.0 478.4,425.0 479.0,424.6 479.6,425.0 480.2,425.6 480.8,424.1 481.4,424.9 482.0,424.1 482.6,424.1 483.2,422.9 483.8,422.6 484.4,423.7 485.0,422.9 485.6,424.2 486.2,423.8 486.8,423.2 487.4,423.2 488.0,424.0 488.6,422.8 489.2,424.2 489.8,423.1 490.4,424.2 491.0,422.2 491.6,423.3 492.2,423.6 492.8,424.3 493.4,425.1 494.0,424.3 494.6,425.8 495.2,424.8 495.8,424.5 496.4,422.3 497.0,422.8 497.6,421.7 498.2,420.6 498.8,420.0 499.4,421.8 500.0,422.0 500.6,423.5 501.2,424.0 501.8,423.9 502.4,423.7 503.0,422.6 503.6,423.3 504.2,421.7 504.8,420.0 505.4,421.1 506.0,422.3 506.6,422.9 507.2,424.0 507.8,423.9 508.4,423.7 509.0,423.4 509.6,424.9 510.2,424.3 510.8,425.0 511.4,424.9 512.0,423.6 512.6,423.4 513.2,422.5 513.8,421.9 514.4,421.4 515.0,422.2 515.6,422.4 516.2,423.3 516.8,423.7 517.4,423.7 518.0,424.5 518.6,422.9 519.2,421.3 519.8,419.0 520.4,419.6 521.0,420.9 521.6,421.6 522.2,422.3 522.8,423.0 523.4,422.4 524.0,422.3 524.6,422.5 525.2,421.2 525.8,420.1 526.4,419.6 527.0,419.6 527.6,422.3 528.2,423.1 528.8,421.7 529.4,422.0 530.0,422.0 530.6,421.2 531.2,421.6 531.8,421.3 532.4,422.0 533.0,420.6 533.6,421.7 534.2,421.8 534.8,422.8 535.4,420.8 536.0,419.8 536.6,420.2 537.2,420.0 537.8,421.7 538.4,420.8 539.0,420.6 539.6,421.0 540.2,419.7 540.8,417.7 541.4,417.2 542.0,416.5 542.6,418.0 543.2,420.2 543.8,420.3 544.4,420.3 545.0,420.4 545.6,420.0 546.2,419.9 546.8,418.9 547.4,417.7 548.0,418.6 548.6,419.8 549.2,419.7 549.8,419.9 550.4,420.4 551.0,420.2 551.6,420.8 552.2,420.6 552.8,418.9 553.4,417.0 554.0,416.5 554.6,414.6 555.2,415.5 555.8,417.2 556.4,418.1 557.0,418.9 557.6,418.9 558.2,420.5 558.8,420.7 559.4,420.1 560.0,419.2 560.6,419.9 561.2,418.0 561.8,416.4 562.4,414.5 563.0,414.2 563.6,414.6 564.2,416.0 564.8,416.5 565.4,416.0 566.0,416.6 566.6,416.5 567.2,416.2 567.8,416.4 568.4,416.2 569.0,415.3 569.6,414.2 570.2,414.0 570.8,413.8 571.4,414.9 572.0,414.9 572.6,414.8 573.2,414.9 573.8,416.1 574.4,416.8 575.0,417.4 575.6,417.0 576.2,416.5 576.8,415.7 577.4,414.7 578.0,414.8 578.6,416.4 579.2,416.1 579.8,417.1 580.4,417.7 581.0,416.8 581.6,416.7 582.2,416.6 582.8,417.5 583.4,417.3 584.0,416.0 584.6,415.9 585.2,417.8 585.8,417.4 586.4,419.3 587.0,419.6 587.6,420.0 588.2,419.8 588.8,418.7 589.4,419.6 590.0,419.0 590.6,417.5 591.2,418.7 591.8,417.3 592.4,416.9 593.0,417.5 593.6,418.0 594.2,418.6 594.8,418.8 595.4,420.6 596.0,420.5 596.6,420.3 597.2,421.0 597.8,420.0 598.4,419.9 599.0,420.0 599.6,419.7 600.2,418.5 600.8,418.7 601.4,419.8 602.0,419.5 602.6,418.7 603.2,419.2 603.8,418.4 604.4,417.8 605.0,418.2 605.6,416.5 606.2,415.8 606.8,415.9 607.4,415.2 608.0,411.5 608.0,451.2 607.4,450.8 606.8,449.6 606.2,449.5 605.6,448.6 605.0,448.6 604.4,448.4 603.8,449.5 603.2,450.4 602.6,450.3 602.0,451.0 601.4,449.3 600.8,448.9 600.2,449.5 599.6,449.1 599.0,448.9 598.4,448.4 597.8,448.1 597.2,447.9 596.6,448.7 596.0,447.8 595.4,449.3 594.8,449.6 594.2,450.3 593.6,450.5 593.0,450.8 592.4,450.2 591.8,449.7 591.2,449.4 590.6,449.1 590.0,450.3 589.4,449.9 588.8,450.4 588.2,449.8 587.6,450.7 587.0,450.7 586.4,450.9 585.8,450.7 585.2,450.3 584.6,449.6 584.0,450.3 583.4,450.2 582.8,450.7 582.2,450.5 581.6,449.4 581.0,451.2 580.4,451.8 579.8,451.6 579.2,451.5 578.6,450.7 578.0,450.3 577.4,451.1 576.8,451.8 576.2,450.5 575.6,450.4 575.0,450.8 574.4,451.4 573.8,451.4 573.2,451.9 572.6,451.7 572.0,452.3 571.4,453.4 570.8,453.4 570.2,452.8 569.6,452.9 569.0,451.7 568.4,452.0 567.8,451.3 567.2,452.1 566.6,451.3 566.0,452.4 565.4,452.2 564.8,451.2 564.2,451.6 563.6,452.2 563.0,452.5 562.4,453.9 561.8,453.6 561.2,454.0 560.6,452.8 560.0,453.6 559.4,453.2 558.8,452.4 558.2,452.7 557.6,453.4 557.0,454.6 556.4,454.5 555.8,454.0 555.2,453.6 554.6,452.2 554.0,451.6 553.4,451.1 552.8,451.4 552.2,451.5 551.6,451.4 551.0,453.4 550.4,452.8 549.8,452.3 549.2,451.8 548.6,451.3 548.0,451.2 547.4,451.8 546.8,451.7 546.2,452.2 545.6,451.4 545.0,451.5 544.4,451.8 543.8,452.8 543.2,452.7 542.6,454.3 542.0,453.5 541.4,453.1 540.8,452.6 540.2,452.1 539.6,451.8 539.0,451.7 538.4,452.6 537.8,451.3 537.2,451.0 536.6,451.4 536.0,452.7 535.4,453.7 534.8,454.2 534.2,454.6 533.6,454.4 533.0,453.3 532.4,452.4 531.8,453.8 531.2,453.0 530.6,453.0 530.0,452.2 529.4,451.9 528.8,452.8 528.2,452.3 527.6,452.7 527.0,452.9 526.4,453.3 525.8,452.6 525.2,452.6 524.6,452.3 524.0,453.2 523.4,452.3 522.8,453.0 522.2,452.9 521.6,452.7 521.0,451.3 520.4,451.8 519.8,451.4 519.2,452.7 518.6,453.8 518.0,453.4 517.4,452.5 516.8,452.0 516.2,452.6 515.6,452.6 515.0,453.0 514.4,452.7 513.8,452.3 513.2,452.4 512.6,451.3 512.0,452.7 511.4,453.0 510.8,453.6 510.2,453.3 509.6,454.0 509.0,453.4 508.4,452.0 507.8,452.0 507.2,452.5 506.6,452.4 506.0,451.4 505.4,451.0 504.8,452.3 504.2,452.4 503.6,452.7 503.0,453.9 502.4,452.2 501.8,452.0 501.2,451.6 500.6,451.3 500.0,451.2 499.4,450.8 498.8,451.8 498.2,452.0 497.6,453.3 497.0,453.1 496.4,453.3 495.8,453.0 495.2,451.9 494.6,452.4 494.0,452.8 493.4,451.9 492.8,451.8 492.2,452.2 491.6,451.3 491.0,451.5 490.4,452.4 489.8,452.6 489.2,451.6 488.6,452.1 488.0,452.9 487.4,452.6 486.8,453.0 486.2,451.3 485.6,452.2 485.0,452.3 484.4,450.8 483.8,451.6 483.2,452.0 482.6,450.9 482.0,452.4 481.4,452.0 480.8,451.8 480.2,453.1 479.6,452.1 479.0,451.4 478.4,451.5 477.8,450.9 477.2,451.0 476.6,451.2 476.0,451.2 475.4,451.2 474.8,452.4 474.2,453.7 473.6,453.8 473.0,453.3 472.4,452.6 471.8,452.0 471.2,451.1 470.6,450.9 470.0,450.7 469.4,452.0 468.8,450.7 468.2,451.0 467.6,451.5 467.0,451.5 466.4,450.2 465.8,451.3 465.2,451.3 464.6,450.4 464.0,449.9 463.4,449.6 462.8,449.6 462.2,449.9 461.6,449.5 461.0,449.3 460.4,450.4 459.8,449.8 459.2,450.3 458.6,449.3 458.0,448.2" fill="#000"/>
<line x1="488.0" y1="422.6" x2="488.0" y2="448.7" stroke="#fff" stroke-width="1.05" stroke-opacity="0.95"/>
<line x1="528.0" y1="420.2" x2="528.0" y2="448.5" stroke="#bfbfbf" stroke-width="1.05" stroke-opacity="0.95"/>
<line x1="565.7" y1="414.5" x2="565.7" y2="439.5" stroke="#bfbfbf" stroke-width="1.05" stroke-opacity="0.95"/>
<line x1="602.5" y1="417.2" x2="602.5" y2="446.1" stroke="#fff" stroke-width="1.05" stroke-opacity="0.95"/>
<path d="M458.0,514.3 L458.6,515.1 L459.2,516.0 L459.8,516.9 L460.4,518.0 L461.0,518.1 L461.6,517.4 L462.2,517.0 L462.8,516.9 L463.4,517.5 L464.0,517.9 L464.6,518.4 L465.2,518.5 L465.8,518.4 L466.4,518.6 L467.0,518.7 L467.6,518.1 L468.2,518.1 L468.8,518.8 L469.4,519.8 L470.0,520.7 L470.6,521.1 L471.2,520.9 L471.8,520.5 L472.4,520.0 L473.0,519.5 L473.6,519.0 L474.2,519.4 L474.8,520.2 L475.4,521.4 L476.0,521.4 L476.6,520.3 L477.2,519.5 L477.8,519.1 L478.4,519.4 L479.0,519.6 L479.6,520.0 L480.2,520.4 L480.8,519.8 L481.4,519.3 L482.0,518.8 L482.6,518.0 L483.2,517.2 L483.8,517.4 L484.4,518.0 L485.0,518.3 L485.6,518.3 L486.2,518.6 L486.8,518.5 L487.4,518.2 L488.0,517.8 L488.6,517.6 L489.2,518.2 L489.8,518.9 L490.4,519.5 L491.0,519.7 L491.6,519.2 L492.2,518.1 L492.8,517.5 L493.4,517.3 L494.0,516.7 L494.6,517.1 L495.2,517.9 L495.8,518.9 L496.4,519.2 L497.0,518.6 L497.6,518.0 L498.2,517.5 L498.8,516.9 L499.4,516.3 L500.0,515.7 L500.6,514.1 L501.2,512.4 L501.8,510.1 L502.4,510.0 L503.0,511.4 L503.6,513.3 L504.2,515.2 L504.8,515.5 L505.4,516.3 L506.0,517.3 L506.6,518.4 L507.2,518.9 L507.8,518.9 L508.4,518.0 L509.0,517.2 L509.6,516.3 L510.2,515.5 L510.8,515.1 L511.4,515.5 L512.0,516.5 L512.6,517.9 L513.2,517.8 L513.8,517.1 L514.4,516.6 L515.0,516.1 L515.6,516.2 L516.2,516.6 L516.8,516.8 L517.4,517.3 L518.0,518.1 L518.6,516.9 L519.2,515.4 L519.8,514.1 L520.4,514.3 L521.0,515.1 L521.6,515.8 L522.2,516.4 L522.8,516.2 L523.4,515.1 L524.0,514.5 L524.6,513.9 L525.2,515.3 L525.8,516.8 L526.4,517.8 L527.0,517.2 L527.6,515.4 L528.2,513.9 L528.8,513.3 L529.4,514.5 L530.0,516.0 L530.6,516.3 L531.2,516.6 L531.8,517.0 L532.4,516.7 L533.0,516.0 L533.6,514.7 L534.2,513.7 L534.8,513.6 L535.4,514.8 L536.0,516.0 L536.6,516.6 L537.2,516.4 L537.8,515.8 L538.4,515.2 L539.0,514.6 L539.6,514.8 L540.2,515.2 L540.8,515.7 L541.4,516.4 L542.0,517.4 L542.6,517.7 L543.2,516.7 L543.8,515.1 L544.4,513.4 L545.0,512.7 L545.6,513.9 L546.2,515.1 L546.8,516.3 L547.4,516.0 L548.0,515.2 L548.6,514.4 L549.2,514.1 L549.8,515.1 L550.4,515.4 L551.0,516.0 L551.6,516.9 L552.2,516.7 L552.8,516.0 L553.4,515.2 L554.0,514.5 L554.6,513.6 L555.2,514.2 L555.8,515.2 L556.4,516.0 L557.0,515.5 L557.6,514.7 L558.2,514.3 L558.8,514.3 L559.4,514.2 L560.0,514.1 L560.6,515.1 L561.2,516.3 L561.8,516.8 L562.4,515.5 L563.0,514.3 L563.6,513.9 L564.2,514.4 L564.8,514.8 L565.4,516.1 L566.0,516.5 L566.6,515.7 L567.2,514.2 L567.8,512.9 L568.4,512.1 L569.0,512.1 L569.6,513.2 L570.2,513.8 L570.8,514.0 L571.4,513.5 L572.0,513.1 L572.6,512.6 L573.2,512.0 L573.8,511.3 L574.4,512.0 L575.0,513.1 L575.6,514.6 L576.2,515.1 L576.8,514.1 L577.4,513.1 L578.0,513.7 L578.6,514.9 L579.2,515.9 L579.8,516.4 L580.4,515.6 L581.0,515.6 L581.6,515.3 L582.2,514.9 L582.8,514.2 L583.4,514.5 L584.0,515.1 L584.6,515.9 L585.2,516.6 L585.8,516.7 L586.4,515.6 L587.0,514.7 L587.6,514.0 L588.2,513.5 L588.8,513.1 L589.4,512.9 L590.0,513.3 L590.6,514.3 L591.2,515.0 L591.8,515.6 L592.4,515.4 L593.0,515.2 L593.6,514.9 L594.2,514.4 L594.8,514.4 L595.4,515.1 L596.0,514.9 L596.6,515.1 L597.2,515.6 L597.8,514.6 L598.4,513.6 L599.0,513.0 L599.6,513.8 L600.2,513.9 L600.8,514.1 L601.4,514.6 L602.0,514.3 L602.6,513.8 L603.2,513.3 L603.8,513.1 L604.4,513.0 L605.0,513.0 L605.6,513.4 L606.2,513.9 L606.8,514.3 L607.4,514.5 L608.0,513.4" fill="none" stroke="#151515" stroke-width="1.1" stroke-linejoin="round"/>
<path d="M108.6,20.5 H103.4 V86.2 H108.6 M103.4,42.7 H108.6 M103.4,64.5 H108.6" fill="none" stroke="#000" stroke-width="2.9" stroke-linecap="round" stroke-linejoin="round"/>
<path d="M108.6,120.4 H103.4 V153.1 H108.6" fill="none" stroke="#000" stroke-width="2.9" stroke-linecap="round" stroke-linejoin="round"/>
<text x="74.8" y="24.9" font-family="Liberation Sans, sans-serif" font-size="12.3" textLength="20.5" lengthAdjust="spacingAndGlyphs" fill="#000" stroke="#000" stroke-width="0.3" stroke-linejoin="round" >200</text>
<text x="74.8" y="47.1" font-family="Liberation Sans, sans-serif" font-size="12.3" textLength="20.5" lengthAdjust="spacingAndGlyphs" fill="#000" stroke="#000" stroke-width="0.3" stroke-linejoin="round" >150</text>
<text x="74.8" y="68.9" font-family="Liberation Sans, sans-serif" font-size="12.3" textLength="20.5" lengthAdjust="spacingAndGlyphs" fill="#000" stroke="#000" stroke-width="0.3" stroke-linejoin="round" >100</text>
<text x="81.5" y="90.6" font-family="Liberation Sans, sans-serif" font-size="12.3" textLength="13.8" lengthAdjust="spacingAndGlyphs" fill="#000" stroke="#000" stroke-width="0.3" stroke-linejoin="round" >50</text>
<text x="74.8" y="124.4" font-family="Liberation Sans, sans-serif" font-size="12.3" textLength="20.5" lengthAdjust="spacingAndGlyphs" fill="#000" stroke="#000" stroke-width="0.3" stroke-linejoin="round" >100</text>
<text x="81.5" y="157.6" font-family="Liberation Sans, sans-serif" font-size="12.3" textLength="13.8" lengthAdjust="spacingAndGlyphs" fill="#000" stroke="#000" stroke-width="0.3" stroke-linejoin="round" >50</text>
<text x="28.5" y="51.3" font-family="Liberation Sans, sans-serif" font-size="12.6" textLength="16.7" lengthAdjust="spacingAndGlyphs" fill="#000" stroke="#000" stroke-width="0.3" stroke-linejoin="round" >AP</text>
<text x="12.3" y="69.4" font-family="Liberation Sans, sans-serif" font-size="12.6" textLength="50.5" lengthAdjust="spacingAndGlyphs" fill="#000" stroke="#000" stroke-width="0.3" stroke-linejoin="round" >(mmHg)</text>
<text x="29.2" y="132.6" font-family="Liberation Sans, sans-serif" font-size="12.6" textLength="17.8" lengthAdjust="spacingAndGlyphs" fill="#000" stroke="#000" stroke-width="0.3" stroke-linejoin="round" >HR</text>
<text x="2.0" y="150.8" font-family="Liberation Sans, sans-serif" font-size="12.6" textLength="71.2" lengthAdjust="spacingAndGlyphs" fill="#000" stroke="#000" stroke-width="0.3" stroke-linejoin="round" >(beats/min)</text>
<text x="153.4" y="11.9" font-family="Liberation Sans, sans-serif" font-size="14.6" textLength="66.6" lengthAdjust="spacingAndGlyphs" fill="#000" stroke="#000" stroke-width="0.3" stroke-linejoin="round" font-weight="bold" font-style="italic">Comedy 1</text>
<text x="325.3" y="11.9" font-family="Liberation Sans, sans-serif" font-size="14.6" textLength="66.7" lengthAdjust="spacingAndGlyphs" fill="#000" stroke="#000" stroke-width="0.3" stroke-linejoin="round" font-weight="bold" font-style="italic">Comedy 2</text>
<text x="498.4" y="11.9" font-family="Liberation Sans, sans-serif" font-size="14.6" textLength="67.0" lengthAdjust="spacingAndGlyphs" fill="#000" stroke="#000" stroke-width="0.3" stroke-linejoin="round" font-weight="bold" font-style="italic">Comedy 3</text>
<path d="M108.6,208.0 H103.4 V273.7 H108.6 M103.4,230.2 H108.6 M103.4,252.0 H108.6" fill="none" stroke="#000" stroke-width="2.9" stroke-linecap="round" stroke-linejoin="round"/>
<path d="M108.6,307.9 H103.4 V340.6 H108.6" fill="none" stroke="#000" stroke-width="2.9" stroke-linecap="round" stroke-linejoin="round"/>
<text x="74.8" y="212.4" font-family="Liberation Sans, sans-serif" font-size="12.3" textLength="20.5" lengthAdjust="spacingAndGlyphs" fill="#000" stroke="#000" stroke-width="0.3" stroke-linejoin="round" >200</text>
<text x="74.8" y="234.6" font-family="Liberation Sans, sans-serif" font-size="12.3" textLength="20.5" lengthAdjust="spacingAndGlyphs" fill="#000" stroke="#000" stroke-width="0.3" stroke-linejoin="round" >150</text>
<text x="74.8" y="256.4" font-family="Liberation Sans, sans-serif" font-size="12.3" textLength="20.5" lengthAdjust="spacingAndGlyphs" fill="#000" stroke="#000" stroke-width="0.3" stroke-linejoin="round" >100</text>
<text x="81.5" y="278.1" font-family="Liberation Sans, sans-serif" font-size="12.3" textLength="13.8" lengthAdjust="spacingAndGlyphs" fill="#000" stroke="#000" stroke-width="0.3" stroke-linejoin="round" >50</text>
<text x="74.8" y="311.9" font-family="Liberation Sans, sans-serif" font-size="12.3" textLength="20.5" lengthAdjust="spacingAndGlyphs" fill="#000" stroke="#000" stroke-width="0.3" stroke-linejoin="round" >100</text>
<text x="81.5" y="345.1" font-family="Liberation Sans, sans-serif" font-size="12.3" textLength="13.8" lengthAdjust="spacingAndGlyphs" fill="#000" stroke="#000" stroke-width="0.3" stroke-linejoin="round" >50</text>
<text x="28.5" y="238.8" font-family="Liberation Sans, sans-serif" font-size="12.6" textLength="16.7" lengthAdjust="spacingAndGlyphs" fill="#000" stroke="#000" stroke-width="0.3" stroke-linejoin="round" >AP</text>
<text x="12.3" y="256.9" font-family="Liberation Sans, sans-serif" font-size="12.6" textLength="50.5" lengthAdjust="spacingAndGlyphs" fill="#000" stroke="#000" stroke-width="0.3" stroke-linejoin="round" >(mmHg)</text>
<text x="28.2" y="320.1" font-family="Liberation Sans, sans-serif" font-size="12.6" textLength="17.8" lengthAdjust="spacingAndGlyphs" fill="#000" stroke="#000" stroke-width="0.3" stroke-linejoin="round" >HR</text>
<text x="1.0" y="338.3" font-family="Liberation Sans, sans-serif" font-size="12.6" textLength="71.2" lengthAdjust="spacingAndGlyphs" fill="#000" stroke="#000" stroke-width="0.3" stroke-linejoin="round" >(beats/min)</text>
<text x="144.2" y="199.4" font-family="Liberation Sans, sans-serif" font-size="14.6" textLength="83.7" lengthAdjust="spacingAndGlyphs" fill="#000" stroke="#000" stroke-width="0.3" stroke-linejoin="round" font-weight="bold" font-style="italic">Landscape 1</text>
<text x="317.1" y="199.4" font-family="Liberation Sans, sans-serif" font-size="14.6" textLength="84.2" lengthAdjust="spacingAndGlyphs" fill="#000" stroke="#000" stroke-width="0.3" stroke-linejoin="round" font-weight="bold" font-style="italic">Landscape 2</text>
<text x="490.2" y="199.4" font-family="Liberation Sans, sans-serif" font-size="14.6" textLength="83.7" lengthAdjust="spacingAndGlyphs" fill="#000" stroke="#000" stroke-width="0.3" stroke-linejoin="round" font-weight="bold" font-style="italic">Landscape 3</text>
<path d="M108.6,395.0 H103.4 V460.7 H108.6 M103.4,417.2 H108.6 M103.4,439.0 H108.6" fill="none" stroke="#000" stroke-width="2.9" stroke-linecap="round" stroke-linejoin="round"/>
<path d="M108.6,494.9 H103.4 V527.6 H108.6" fill="none" stroke="#000" stroke-width="2.9" stroke-linecap="round" stroke-linejoin="round"/>
<text x="74.8" y="399.8" font-family="Liberation Sans, sans-serif" font-size="12.3" textLength="20.5" lengthAdjust="spacingAndGlyphs" fill="#000" stroke="#000" stroke-width="0.3" stroke-linejoin="round" >200</text>
<text x="74.8" y="422.0" font-family="Liberation Sans, sans-serif" font-size="12.3" textLength="20.5" lengthAdjust="spacingAndGlyphs" fill="#000" stroke="#000" stroke-width="0.3" stroke-linejoin="round" >150</text>
<text x="74.8" y="443.8" font-family="Liberation Sans, sans-serif" font-size="12.3" textLength="20.5" lengthAdjust="spacingAndGlyphs" fill="#000" stroke="#000" stroke-width="0.3" stroke-linejoin="round" >100</text>
<text x="81.5" y="465.5" font-family="Liberation Sans, sans-serif" font-size="12.3" textLength="13.8" lengthAdjust="spacingAndGlyphs" fill="#000" stroke="#000" stroke-width="0.3" stroke-linejoin="round" >50</text>
<text x="74.8" y="498.9" font-family="Liberation Sans, sans-serif" font-size="12.3" textLength="20.5" lengthAdjust="spacingAndGlyphs" fill="#000" stroke="#000" stroke-width="0.3" stroke-linejoin="round" >100</text>
<text x="81.5" y="532.1" font-family="Liberation Sans, sans-serif" font-size="12.3" textLength="13.8" lengthAdjust="spacingAndGlyphs" fill="#000" stroke="#000" stroke-width="0.3" stroke-linejoin="round" >50</text>
<text x="27.0" y="425.8" font-family="Liberation Sans, sans-serif" font-size="12.6" textLength="16.7" lengthAdjust="spacingAndGlyphs" fill="#000" stroke="#000" stroke-width="0.3" stroke-linejoin="round" >AP</text>
<text x="10.8" y="443.9" font-family="Liberation Sans, sans-serif" font-size="12.6" textLength="50.5" lengthAdjust="spacingAndGlyphs" fill="#000" stroke="#000" stroke-width="0.3" stroke-linejoin="round" >(mmHg)</text>
<text x="26.7" y="507.1" font-family="Liberation Sans, sans-serif" font-size="12.6" textLength="17.8" lengthAdjust="spacingAndGlyphs" fill="#000" stroke="#000" stroke-width="0.3" stroke-linejoin="round" >HR</text>
<text x="-0.5" y="525.3" font-family="Liberation Sans, sans-serif" font-size="12.6" textLength="71.2" lengthAdjust="spacingAndGlyphs" fill="#000" stroke="#000" stroke-width="0.3" stroke-linejoin="round" >(beats/min)</text>
<text x="157.4" y="385.8" font-family="Liberation Sans, sans-serif" font-size="14.6" textLength="58.1" lengthAdjust="spacingAndGlyphs" fill="#000" stroke="#000" stroke-width="0.3" stroke-linejoin="round" font-weight="bold" font-style="italic">Horror 1</text>
<text x="329.9" y="385.8" font-family="Liberation Sans, sans-serif" font-size="14.6" textLength="59.2" lengthAdjust="spacingAndGlyphs" fill="#000" stroke="#000" stroke-width="0.3" stroke-linejoin="round" font-weight="bold" font-style="italic">Horror 2</text>
<text x="503.0" y="385.8" font-family="Liberation Sans, sans-serif" font-size="14.6" textLength="59.1" lengthAdjust="spacingAndGlyphs" fill="#000" stroke="#000" stroke-width="0.3" stroke-linejoin="round" font-weight="bold" font-style="italic">Horror 3</text>
<line x1="498" y1="536.8" x2="567" y2="536.8" stroke="#1a1a1a" stroke-width="1.5"/>
<polygon points="494.6,536.8 501.7,533.1999999999999 501.7,540.4" fill="#000"/>
<polygon points="570.1,536.8 563.0,533.1999999999999 563.0,540.4" fill="#000"/>
<text x="513.6" y="555.4" font-family="Liberation Sans, sans-serif" font-size="14.4" textLength="37.4" lengthAdjust="spacingAndGlyphs" fill="#000" stroke="#000" stroke-width="0.3" stroke-linejoin="round">2 min</text>
</svg>
</body></html>
